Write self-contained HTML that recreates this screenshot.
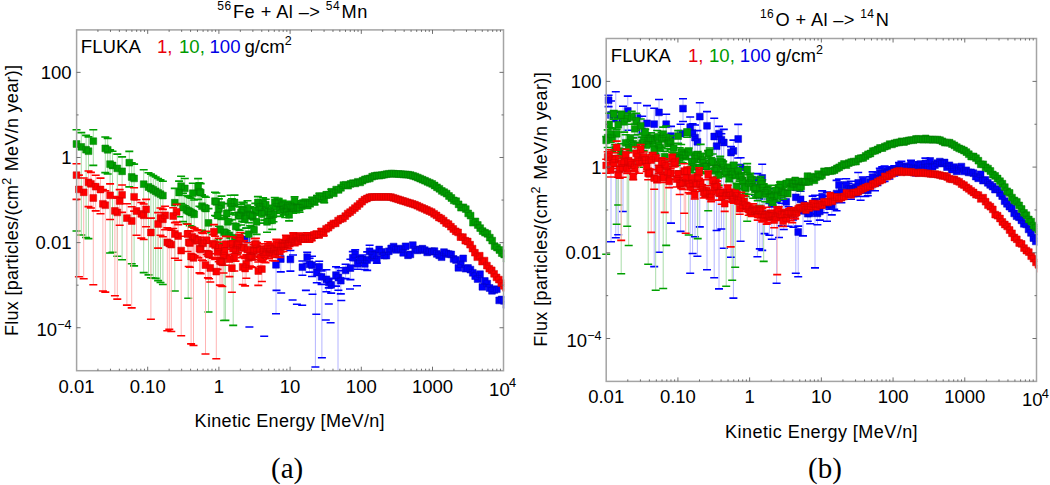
<!DOCTYPE html>
<html><head><meta charset="utf-8"><style>
html,body{margin:0;padding:0;background:#fff;width:1050px;height:485px;overflow:hidden}
svg{display:block;font-family:"Liberation Sans", sans-serif}
</style></head><body>
<svg width="1050" height="485" viewBox="0 0 1050 485">
<rect width="1050" height="485" fill="#fff"/>
<clipPath id="ca"><rect x="0" y="0" width="504.2" height="485"/></clipPath><clipPath id="cb"><rect x="530" y="0" width="507.2" height="485"/></clipPath>
<g clip-path="url(#ca)">
<path d="M276.0,253.2V313.7M280.8,249.0V271.9M290.4,250.5V271.1M302.4,261.0V275.3M307.2,252.3V263.3M309.6,258.3V272.1M312.0,256.3V276.5M316.8,264.6V282.8M319.2,261.2V274.3M321.6,271.0V284.4M326.4,269.7V291.8M328.8,278.2V287.9M331.2,278.7V293.1M336.0,266.7V286.1M338.4,267.8V290.2M340.8,270.6V293.9M345.6,264.2V278.6M350.4,259.3V279.6M352.8,251.6V265.7M355.2,249.9V260.5M357.6,259.6V269.3M360.0,255.9V265.2M362.4,255.0V265.2M364.8,259.7V269.5M367.2,251.9V270.4M369.6,245.3V259.1M372.0,250.3V260.8M374.4,251.6V260.3M376.8,256.6V263.3M315.4,290.0V367.0M321.9,285.0V357.8M338.0,280.0V370.0" stroke="#b4b4ff" stroke-width="1" fill="none"/>
<path d="M272.0,252.4h8.0v1.6h-8.0zM272.0,312.9h8.0v1.6h-8.0zM276.8,248.2h8.0v1.6h-8.0zM276.8,271.1h8.0v1.6h-8.0zM286.4,249.7h8.0v1.6h-8.0zM286.4,270.3h8.0v1.6h-8.0zM298.4,260.2h8.0v1.6h-8.0zM298.4,274.5h8.0v1.6h-8.0zM303.2,251.5h8.0v1.6h-8.0zM303.2,262.5h8.0v1.6h-8.0zM305.6,257.5h8.0v1.6h-8.0zM305.6,271.3h8.0v1.6h-8.0zM308.0,255.5h8.0v1.6h-8.0zM308.0,275.7h8.0v1.6h-8.0zM312.8,263.8h8.0v1.6h-8.0zM312.8,282.0h8.0v1.6h-8.0zM315.2,260.4h8.0v1.6h-8.0zM315.2,273.5h8.0v1.6h-8.0zM317.6,270.2h8.0v1.6h-8.0zM317.6,283.6h8.0v1.6h-8.0zM322.4,268.9h8.0v1.6h-8.0zM322.4,291.0h8.0v1.6h-8.0zM324.8,277.4h8.0v1.6h-8.0zM324.8,287.1h8.0v1.6h-8.0zM327.2,277.9h8.0v1.6h-8.0zM327.2,292.3h8.0v1.6h-8.0zM332.0,265.9h8.0v1.6h-8.0zM332.0,285.3h8.0v1.6h-8.0zM334.4,267.0h8.0v1.6h-8.0zM334.4,289.4h8.0v1.6h-8.0zM336.8,269.8h8.0v1.6h-8.0zM336.8,293.1h8.0v1.6h-8.0zM341.6,263.4h8.0v1.6h-8.0zM341.6,277.8h8.0v1.6h-8.0zM346.4,258.5h8.0v1.6h-8.0zM346.4,278.8h8.0v1.6h-8.0zM348.8,250.8h8.0v1.6h-8.0zM348.8,264.9h8.0v1.6h-8.0zM351.2,249.1h8.0v1.6h-8.0zM351.2,259.7h8.0v1.6h-8.0zM353.6,258.8h8.0v1.6h-8.0zM353.6,268.5h8.0v1.6h-8.0zM356.0,255.1h8.0v1.6h-8.0zM356.0,264.4h8.0v1.6h-8.0zM358.4,254.2h8.0v1.6h-8.0zM358.4,264.4h8.0v1.6h-8.0zM360.8,258.9h8.0v1.6h-8.0zM360.8,268.7h8.0v1.6h-8.0zM363.2,251.1h8.0v1.6h-8.0zM363.2,269.6h8.0v1.6h-8.0zM365.6,244.5h8.0v1.6h-8.0zM365.6,258.3h8.0v1.6h-8.0zM368.0,249.5h8.0v1.6h-8.0zM368.0,260.0h8.0v1.6h-8.0zM370.4,250.8h8.0v1.6h-8.0zM370.4,259.5h8.0v1.6h-8.0zM372.8,255.8h8.0v1.6h-8.0zM372.8,262.5h8.0v1.6h-8.0zM245.4,326.2h8.0v1.6h-8.0zM260.2,335.4h8.0v1.6h-8.0zM272.5,289.6h8.0v1.6h-8.0zM277.2,292.2h8.0v1.6h-8.0zM288.6,299.2h8.0v1.6h-8.0zM292.9,303.5h8.0v1.6h-8.0zM298.2,304.4h8.0v1.6h-8.0zM301.9,289.6h8.0v1.6h-8.0zM308.5,293.4h8.0v1.6h-8.0zM312.3,313.4h8.0v1.6h-8.0zM324.8,303.2h8.0v1.6h-8.0zM321.8,319.2h8.0v1.6h-8.0zM326.6,321.9h8.0v1.6h-8.0zM317.9,357.0h8.0v1.6h-8.0zM311.4,366.2h8.0v1.6h-8.0zM337.3,299.7h8.0v1.6h-8.0zM346.0,288.2h8.0v1.6h-8.0zM353.0,284.9h8.0v1.6h-8.0zM276.0,245.2h8.0v1.6h-8.0zM289.0,254.2h8.0v1.6h-8.0zM242.5,227.2h8.0v1.6h-8.0z" fill="#0000ff"/>
<path d="M272.6,261.4h6.8v6.8h-6.8zM277.4,255.6h6.8v6.8h-6.8zM287.0,256.0h6.8v6.8h-6.8zM299.0,263.8h6.8v6.8h-6.8zM303.8,253.7h6.8v6.8h-6.8zM306.2,260.9h6.8v6.8h-6.8zM308.6,261.7h6.8v6.8h-6.8zM313.4,269.1h6.8v6.8h-6.8zM315.8,263.5h6.8v6.8h-6.8zM318.2,273.4h6.8v6.8h-6.8zM323.0,275.9h6.8v6.8h-6.8zM325.4,279.0h6.8v6.8h-6.8zM327.8,281.5h6.8v6.8h-6.8zM332.6,271.7h6.8v6.8h-6.8zM335.0,274.1h6.8v6.8h-6.8zM337.4,277.3h6.8v6.8h-6.8zM342.2,267.0h6.8v6.8h-6.8zM347.0,264.7h6.8v6.8h-6.8zM349.4,254.3h6.8v6.8h-6.8zM351.8,251.1h6.8v6.8h-6.8zM354.2,260.4h6.8v6.8h-6.8zM356.6,256.5h6.8v6.8h-6.8zM359.0,256.0h6.8v6.8h-6.8zM361.4,260.5h6.8v6.8h-6.8zM363.8,256.6h6.8v6.8h-6.8zM366.2,247.9h6.8v6.8h-6.8zM368.6,251.5h6.8v6.8h-6.8zM371.0,252.0h6.8v6.8h-6.8zM373.4,256.1h6.8v6.8h-6.8zM375.8,246.1h6.8v6.8h-6.8zM378.2,248.6h6.8v6.8h-6.8zM380.6,252.1h6.8v6.8h-6.8zM383.0,252.2h6.8v6.8h-6.8zM385.4,247.9h6.8v6.8h-6.8zM387.8,245.0h6.8v6.8h-6.8zM390.2,243.2h6.8v6.8h-6.8zM392.6,246.5h6.8v6.8h-6.8zM395.0,245.2h6.8v6.8h-6.8zM397.4,245.8h6.8v6.8h-6.8zM399.8,249.4h6.8v6.8h-6.8zM402.2,242.9h6.8v6.8h-6.8zM404.6,251.9h6.8v6.8h-6.8zM407.0,251.0h6.8v6.8h-6.8zM409.4,241.7h6.8v6.8h-6.8zM411.8,246.3h6.8v6.8h-6.8zM414.2,247.0h6.8v6.8h-6.8zM416.6,246.1h6.8v6.8h-6.8zM419.0,245.3h6.8v6.8h-6.8zM421.4,246.8h6.8v6.8h-6.8zM423.8,249.0h6.8v6.8h-6.8zM426.2,248.3h6.8v6.8h-6.8zM428.6,247.9h6.8v6.8h-6.8zM431.0,247.7h6.8v6.8h-6.8zM433.4,250.5h6.8v6.8h-6.8zM435.8,251.9h6.8v6.8h-6.8zM438.2,253.8h6.8v6.8h-6.8zM440.6,248.7h6.8v6.8h-6.8zM443.0,250.0h6.8v6.8h-6.8zM445.4,250.8h6.8v6.8h-6.8zM447.8,251.0h6.8v6.8h-6.8zM450.2,255.5h6.8v6.8h-6.8zM452.6,256.6h6.8v6.8h-6.8zM455.0,264.4h6.8v6.8h-6.8zM457.4,260.8h6.8v6.8h-6.8zM459.8,255.0h6.8v6.8h-6.8zM462.2,265.3h6.8v6.8h-6.8zM464.6,264.6h6.8v6.8h-6.8zM467.0,266.2h6.8v6.8h-6.8zM469.4,269.4h6.8v6.8h-6.8zM471.8,272.7h6.8v6.8h-6.8zM474.2,275.6h6.8v6.8h-6.8zM476.6,270.8h6.8v6.8h-6.8zM479.0,283.4h6.8v6.8h-6.8zM481.4,277.6h6.8v6.8h-6.8zM483.8,280.2h6.8v6.8h-6.8zM486.2,284.6h6.8v6.8h-6.8zM488.6,287.4h6.8v6.8h-6.8zM491.0,286.5h6.8v6.8h-6.8zM493.4,285.8h6.8v6.8h-6.8zM495.8,297.0h6.8v6.8h-6.8zM498.2,296.1h6.8v6.8h-6.8zM500.6,297.4h6.8v6.8h-6.8zM503.0,301.5h6.8v6.8h-6.8zM243.1,236.1h6.8v6.8h-6.8z" fill="#0000ff" stroke="#0000c0" stroke-width="0.5"/>
<path d="M76.5,129.7V231.0M81.3,132.6V235.0M86.1,135.4V237.5M88.5,136.9V238.6M93.3,129.8V165.4M105.3,137.0V172.6M107.7,138.4V174.0M110.1,149.8V253.0M112.5,151.2V252.3M117.3,154.1V256.3M122.1,156.9V259.8M129.3,151.4V186.9M131.7,162.7V263.8M134.1,164.1V265.9M143.7,169.8V272.6M148.5,172.7V274.9M150.9,174.1V277.8M153.3,175.6V278.1M155.7,177.0V278.4M158.1,178.5V280.6M160.5,179.9V282.5M162.9,181.3V284.5M174.8,188.4V291.0M179.1,181.1V216.7M181.1,176.3V203.6M183.0,193.3V221.6M184.8,178.5V205.8M186.6,195.5V223.8M188.2,196.5V298.3M189.8,197.4V225.7M191.4,198.3V226.6M192.8,183.3V210.6M194.2,200.0V228.3M198.1,178.6V199.4M199.4,182.9V206.2M200.7,183.6V206.9M202.0,194.8V230.4M204.6,196.4V232.0M205.9,197.2V232.7M208.5,208.6V312.0M215.0,192.2V215.5M216.3,193.0V216.3M217.6,204.2V239.7M218.9,198.9V226.2M220.2,215.6V243.9M221.5,196.1V219.4M224.1,217.9V320.5M225.4,218.7V320.4M226.7,203.6V230.9M228.0,210.4V246.0M229.3,221.0V249.3M230.6,195.2V214.2M231.9,198.8V219.6M233.2,223.4V325.4M234.5,195.1V212.8M235.8,215.0V250.6M237.1,225.7V254.0M238.4,206.2V229.5M239.7,206.9V230.2M241.0,204.3V225.0M242.3,202.2V221.2M243.6,202.9V222.0M244.9,210.0V233.4M246.2,207.4V228.1M247.5,200.7V217.3M248.8,222.8V258.4M250.1,206.8V225.8M251.4,207.6V226.6M252.7,208.4V227.4M254.0,219.9V247.2M255.3,203.4V219.3M256.6,213.6V234.4M257.9,196.6V209.4M259.2,201.1V215.1M260.5,200.5V214.1M261.8,207.3V223.1M263.1,197.7V209.8M264.4,205.6V220.1M265.7,199.2V211.4M267.0,214.5V232.2M268.3,205.2V218.7M269.6,208.7V223.2M270.9,206.8V220.3M272.2,213.5V229.4M273.5,208.3V221.8M274.8,197.5V207.8M276.1,201.9V213.1M277.4,198.4V208.6M278.7,198.6V208.6M280.0,205.0V216.4M281.3,201.4V211.7M282.6,200.3V210.2M283.9,204.3V214.9M285.2,206.5V217.5M286.5,203.2V213.3M287.8,201.7V211.3M289.1,209.7V220.9M290.4,201.3V210.5M291.8,202.5V211.8M293.2,203.9V213.3M294.6,196.8V204.8M296.2,203.8V212.8M297.8,203.4V212.3M299.6,203.7V212.3M301.4,200.8V208.9M303.3,200.1V207.9M305.4,199.2V206.7M307.5,201.0V208.5M309.8,199.6V206.8M312.2,197.3V204.1M314.6,198.2V205.0M317.0,195.5V201.8M319.4,193.3V199.3M321.8,193.6V199.5M324.2,196.7V202.7M326.6,192.0V197.6M329.0,192.0V197.4M331.4,189.3V194.4" stroke="#a8dca8" stroke-width="1" fill="none"/>
<path d="M72.5,128.9h8.0v1.6h-8.0zM72.5,230.2h8.0v1.6h-8.0zM77.3,131.8h8.0v1.6h-8.0zM77.3,234.2h8.0v1.6h-8.0zM82.1,134.6h8.0v1.6h-8.0zM82.1,236.7h8.0v1.6h-8.0zM84.5,136.1h8.0v1.6h-8.0zM84.5,237.8h8.0v1.6h-8.0zM89.3,129.0h8.0v1.6h-8.0zM89.3,164.6h8.0v1.6h-8.0zM101.3,136.2h8.0v1.6h-8.0zM101.3,171.8h8.0v1.6h-8.0zM103.7,137.6h8.0v1.6h-8.0zM103.7,173.2h8.0v1.6h-8.0zM106.1,149.0h8.0v1.6h-8.0zM106.1,252.2h8.0v1.6h-8.0zM108.5,150.4h8.0v1.6h-8.0zM108.5,251.5h8.0v1.6h-8.0zM113.3,153.3h8.0v1.6h-8.0zM113.3,255.5h8.0v1.6h-8.0zM118.1,156.1h8.0v1.6h-8.0zM118.1,259.0h8.0v1.6h-8.0zM125.3,150.6h8.0v1.6h-8.0zM125.3,186.1h8.0v1.6h-8.0zM127.7,161.9h8.0v1.6h-8.0zM127.7,263.0h8.0v1.6h-8.0zM130.1,163.3h8.0v1.6h-8.0zM130.1,265.1h8.0v1.6h-8.0zM139.7,169.0h8.0v1.6h-8.0zM139.7,271.8h8.0v1.6h-8.0zM144.5,171.9h8.0v1.6h-8.0zM144.5,274.1h8.0v1.6h-8.0zM146.9,173.3h8.0v1.6h-8.0zM146.9,277.0h8.0v1.6h-8.0zM149.3,174.8h8.0v1.6h-8.0zM149.3,277.3h8.0v1.6h-8.0zM151.7,176.2h8.0v1.6h-8.0zM151.7,277.6h8.0v1.6h-8.0zM154.1,177.7h8.0v1.6h-8.0zM154.1,279.8h8.0v1.6h-8.0zM156.5,179.1h8.0v1.6h-8.0zM156.5,281.7h8.0v1.6h-8.0zM158.9,180.5h8.0v1.6h-8.0zM158.9,283.7h8.0v1.6h-8.0zM170.8,187.6h8.0v1.6h-8.0zM170.8,290.2h8.0v1.6h-8.0zM175.1,180.3h8.0v1.6h-8.0zM175.1,215.9h8.0v1.6h-8.0zM177.1,175.5h8.0v1.6h-8.0zM177.1,202.8h8.0v1.6h-8.0zM179.0,192.5h8.0v1.6h-8.0zM179.0,220.8h8.0v1.6h-8.0zM180.8,177.7h8.0v1.6h-8.0zM180.8,205.0h8.0v1.6h-8.0zM182.6,194.7h8.0v1.6h-8.0zM182.6,223.0h8.0v1.6h-8.0zM184.2,195.7h8.0v1.6h-8.0zM184.2,297.5h8.0v1.6h-8.0zM185.8,196.6h8.0v1.6h-8.0zM185.8,224.9h8.0v1.6h-8.0zM187.4,197.5h8.0v1.6h-8.0zM187.4,225.8h8.0v1.6h-8.0zM188.8,182.5h8.0v1.6h-8.0zM188.8,209.8h8.0v1.6h-8.0zM190.2,199.2h8.0v1.6h-8.0zM190.2,227.5h8.0v1.6h-8.0zM194.1,177.8h8.0v1.6h-8.0zM194.1,198.6h8.0v1.6h-8.0zM195.4,182.1h8.0v1.6h-8.0zM195.4,205.4h8.0v1.6h-8.0zM196.7,182.8h8.0v1.6h-8.0zM196.7,206.1h8.0v1.6h-8.0zM198.0,194.0h8.0v1.6h-8.0zM198.0,229.6h8.0v1.6h-8.0zM200.6,195.6h8.0v1.6h-8.0zM200.6,231.2h8.0v1.6h-8.0zM201.9,196.4h8.0v1.6h-8.0zM201.9,231.9h8.0v1.6h-8.0zM204.5,207.8h8.0v1.6h-8.0zM204.5,311.2h8.0v1.6h-8.0zM211.0,191.4h8.0v1.6h-8.0zM211.0,214.7h8.0v1.6h-8.0zM212.3,192.2h8.0v1.6h-8.0zM212.3,215.5h8.0v1.6h-8.0zM213.6,203.4h8.0v1.6h-8.0zM213.6,238.9h8.0v1.6h-8.0zM214.9,198.1h8.0v1.6h-8.0zM214.9,225.4h8.0v1.6h-8.0zM216.2,214.8h8.0v1.6h-8.0zM216.2,243.1h8.0v1.6h-8.0zM217.5,195.3h8.0v1.6h-8.0zM217.5,218.6h8.0v1.6h-8.0zM220.1,217.1h8.0v1.6h-8.0zM220.1,319.7h8.0v1.6h-8.0zM221.4,217.9h8.0v1.6h-8.0zM221.4,319.6h8.0v1.6h-8.0zM222.7,202.8h8.0v1.6h-8.0zM222.7,230.1h8.0v1.6h-8.0zM224.0,209.6h8.0v1.6h-8.0zM224.0,245.2h8.0v1.6h-8.0zM225.3,220.2h8.0v1.6h-8.0zM225.3,248.5h8.0v1.6h-8.0zM226.6,194.4h8.0v1.6h-8.0zM226.6,213.4h8.0v1.6h-8.0zM227.9,198.0h8.0v1.6h-8.0zM227.9,218.8h8.0v1.6h-8.0zM229.2,222.6h8.0v1.6h-8.0zM229.2,324.6h8.0v1.6h-8.0zM230.5,194.3h8.0v1.6h-8.0zM230.5,212.0h8.0v1.6h-8.0zM231.8,214.2h8.0v1.6h-8.0zM231.8,249.8h8.0v1.6h-8.0zM233.1,224.9h8.0v1.6h-8.0zM233.1,253.2h8.0v1.6h-8.0zM234.4,205.4h8.0v1.6h-8.0zM234.4,228.7h8.0v1.6h-8.0zM235.7,206.1h8.0v1.6h-8.0zM235.7,229.4h8.0v1.6h-8.0zM237.0,203.5h8.0v1.6h-8.0zM237.0,224.2h8.0v1.6h-8.0zM238.3,201.4h8.0v1.6h-8.0zM238.3,220.4h8.0v1.6h-8.0zM239.6,202.1h8.0v1.6h-8.0zM239.6,221.2h8.0v1.6h-8.0zM240.9,209.2h8.0v1.6h-8.0zM240.9,232.6h8.0v1.6h-8.0zM242.2,206.6h8.0v1.6h-8.0zM242.2,227.3h8.0v1.6h-8.0zM243.5,199.9h8.0v1.6h-8.0zM243.5,216.5h8.0v1.6h-8.0zM244.8,222.0h8.0v1.6h-8.0zM244.8,257.6h8.0v1.6h-8.0zM246.1,206.0h8.0v1.6h-8.0zM246.1,225.0h8.0v1.6h-8.0zM247.4,206.8h8.0v1.6h-8.0zM247.4,225.8h8.0v1.6h-8.0zM248.7,207.6h8.0v1.6h-8.0zM248.7,226.6h8.0v1.6h-8.0zM250.0,219.1h8.0v1.6h-8.0zM250.0,246.4h8.0v1.6h-8.0zM251.3,202.6h8.0v1.6h-8.0zM251.3,218.5h8.0v1.6h-8.0zM252.6,212.8h8.0v1.6h-8.0zM252.6,233.6h8.0v1.6h-8.0zM253.9,195.8h8.0v1.6h-8.0zM253.9,208.6h8.0v1.6h-8.0zM255.2,200.3h8.0v1.6h-8.0zM255.2,214.3h8.0v1.6h-8.0zM256.5,199.7h8.0v1.6h-8.0zM256.5,213.3h8.0v1.6h-8.0zM257.8,206.5h8.0v1.6h-8.0zM257.8,222.3h8.0v1.6h-8.0zM259.1,196.9h8.0v1.6h-8.0zM259.1,209.0h8.0v1.6h-8.0zM260.4,204.8h8.0v1.6h-8.0zM260.4,219.3h8.0v1.6h-8.0zM261.7,198.4h8.0v1.6h-8.0zM261.7,210.6h8.0v1.6h-8.0zM263.0,213.7h8.0v1.6h-8.0zM263.0,231.4h8.0v1.6h-8.0zM264.3,204.4h8.0v1.6h-8.0zM264.3,217.9h8.0v1.6h-8.0zM265.6,207.9h8.0v1.6h-8.0zM265.6,222.4h8.0v1.6h-8.0zM266.9,206.0h8.0v1.6h-8.0zM266.9,219.5h8.0v1.6h-8.0zM268.2,212.7h8.0v1.6h-8.0zM268.2,228.6h8.0v1.6h-8.0zM269.5,207.5h8.0v1.6h-8.0zM269.5,221.0h8.0v1.6h-8.0zM270.8,196.7h8.0v1.6h-8.0zM270.8,207.0h8.0v1.6h-8.0zM272.1,201.1h8.0v1.6h-8.0zM272.1,212.3h8.0v1.6h-8.0zM273.4,197.6h8.0v1.6h-8.0zM273.4,207.8h8.0v1.6h-8.0zM274.7,197.8h8.0v1.6h-8.0zM274.7,207.8h8.0v1.6h-8.0zM276.0,204.2h8.0v1.6h-8.0zM276.0,215.6h8.0v1.6h-8.0zM277.3,200.6h8.0v1.6h-8.0zM277.3,210.9h8.0v1.6h-8.0zM278.6,199.5h8.0v1.6h-8.0zM278.6,209.4h8.0v1.6h-8.0zM279.9,203.5h8.0v1.6h-8.0zM279.9,214.1h8.0v1.6h-8.0zM281.2,205.7h8.0v1.6h-8.0zM281.2,216.7h8.0v1.6h-8.0zM282.5,202.4h8.0v1.6h-8.0zM282.5,212.5h8.0v1.6h-8.0zM283.8,200.9h8.0v1.6h-8.0zM283.8,210.5h8.0v1.6h-8.0zM285.1,208.9h8.0v1.6h-8.0zM285.1,220.1h8.0v1.6h-8.0zM286.4,200.5h8.0v1.6h-8.0zM286.4,209.7h8.0v1.6h-8.0zM287.8,201.7h8.0v1.6h-8.0zM287.8,211.0h8.0v1.6h-8.0zM289.2,203.1h8.0v1.6h-8.0zM289.2,212.5h8.0v1.6h-8.0zM290.6,196.0h8.0v1.6h-8.0zM290.6,204.0h8.0v1.6h-8.0zM292.2,203.0h8.0v1.6h-8.0zM292.2,212.0h8.0v1.6h-8.0zM293.8,202.6h8.0v1.6h-8.0zM293.8,211.5h8.0v1.6h-8.0zM295.6,202.9h8.0v1.6h-8.0zM295.6,211.5h8.0v1.6h-8.0zM297.4,200.0h8.0v1.6h-8.0zM297.4,208.1h8.0v1.6h-8.0zM299.3,199.3h8.0v1.6h-8.0zM299.3,207.1h8.0v1.6h-8.0zM301.4,198.4h8.0v1.6h-8.0zM301.4,205.9h8.0v1.6h-8.0zM303.5,200.2h8.0v1.6h-8.0zM303.5,207.7h8.0v1.6h-8.0zM305.8,198.8h8.0v1.6h-8.0zM305.8,206.0h8.0v1.6h-8.0zM308.2,196.5h8.0v1.6h-8.0zM308.2,203.3h8.0v1.6h-8.0zM310.6,197.4h8.0v1.6h-8.0zM310.6,204.2h8.0v1.6h-8.0zM313.0,194.7h8.0v1.6h-8.0zM313.0,201.0h8.0v1.6h-8.0zM315.4,192.5h8.0v1.6h-8.0zM315.4,198.5h8.0v1.6h-8.0zM317.8,192.8h8.0v1.6h-8.0zM317.8,198.7h8.0v1.6h-8.0zM320.2,195.9h8.0v1.6h-8.0zM320.2,201.9h8.0v1.6h-8.0zM322.6,191.2h8.0v1.6h-8.0zM322.6,196.8h8.0v1.6h-8.0zM325.0,191.2h8.0v1.6h-8.0zM325.0,196.6h8.0v1.6h-8.0zM327.4,188.5h8.0v1.6h-8.0zM327.4,193.6h8.0v1.6h-8.0z" fill="#00a000"/>
<path d="M73.1,140.6h6.8v6.8h-6.8zM77.9,143.5h6.8v6.8h-6.8zM82.7,146.3h6.8v6.8h-6.8zM85.1,147.8h6.8v6.8h-6.8zM89.9,137.8h6.8v6.8h-6.8zM101.9,145.0h6.8v6.8h-6.8zM104.3,146.4h6.8v6.8h-6.8zM106.7,160.7h6.8v6.8h-6.8zM109.1,162.1h6.8v6.8h-6.8zM113.9,165.0h6.8v6.8h-6.8zM118.7,167.9h6.8v6.8h-6.8zM125.9,159.3h6.8v6.8h-6.8zM128.3,173.6h6.8v6.8h-6.8zM130.7,175.0h6.8v6.8h-6.8zM140.3,180.8h6.8v6.8h-6.8zM145.1,183.6h6.8v6.8h-6.8zM147.5,185.1h6.8v6.8h-6.8zM149.9,186.5h6.8v6.8h-6.8zM152.3,187.9h6.8v6.8h-6.8zM154.7,189.4h6.8v6.8h-6.8zM157.1,190.8h6.8v6.8h-6.8zM159.5,192.2h6.8v6.8h-6.8zM171.4,199.3h6.8v6.8h-6.8zM175.7,189.1h6.8v6.8h-6.8zM177.7,182.8h6.8v6.8h-6.8zM179.6,204.2h6.8v6.8h-6.8zM181.4,185.0h6.8v6.8h-6.8zM183.2,206.4h6.8v6.8h-6.8zM184.8,207.4h6.8v6.8h-6.8zM186.4,208.3h6.8v6.8h-6.8zM188.0,209.2h6.8v6.8h-6.8zM189.4,189.8h6.8v6.8h-6.8zM190.8,210.9h6.8v6.8h-6.8zM194.7,183.5h6.8v6.8h-6.8zM196.0,188.4h6.8v6.8h-6.8zM197.3,189.2h6.8v6.8h-6.8zM198.6,202.8h6.8v6.8h-6.8zM201.2,204.4h6.8v6.8h-6.8zM202.5,205.1h6.8v6.8h-6.8zM205.1,219.5h6.8v6.8h-6.8zM211.6,197.8h6.8v6.8h-6.8zM212.9,198.5h6.8v6.8h-6.8zM214.2,212.1h6.8v6.8h-6.8zM215.5,205.4h6.8v6.8h-6.8zM216.8,226.5h6.8v6.8h-6.8zM218.1,201.7h6.8v6.8h-6.8zM220.7,228.8h6.8v6.8h-6.8zM222.0,229.6h6.8v6.8h-6.8zM223.3,210.1h6.8v6.8h-6.8zM224.6,218.4h6.8v6.8h-6.8zM225.9,231.9h6.8v6.8h-6.8zM227.2,199.6h6.8v6.8h-6.8zM228.5,203.7h6.8v6.8h-6.8zM229.8,234.3h6.8v6.8h-6.8zM231.1,199.1h6.8v6.8h-6.8zM232.4,223.0h6.8v6.8h-6.8zM233.7,236.6h6.8v6.8h-6.8zM235.0,211.8h6.8v6.8h-6.8zM236.3,212.5h6.8v6.8h-6.8zM237.6,209.2h6.8v6.8h-6.8zM238.9,206.6h6.8v6.8h-6.8zM240.2,207.4h6.8v6.8h-6.8zM241.5,215.6h6.8v6.8h-6.8zM242.8,212.3h6.8v6.8h-6.8zM244.1,204.4h6.8v6.8h-6.8zM245.4,230.8h6.8v6.8h-6.8zM246.7,211.3h6.8v6.8h-6.8zM248.0,212.0h6.8v6.8h-6.8zM249.3,212.8h6.8v6.8h-6.8zM250.6,226.4h6.8v6.8h-6.8zM251.9,206.9h6.8v6.8h-6.8zM253.2,218.5h6.8v6.8h-6.8zM254.5,199.0h6.8v6.8h-6.8zM255.8,203.9h6.8v6.8h-6.8zM257.1,203.2h6.8v6.8h-6.8zM258.4,210.7h6.8v6.8h-6.8zM259.7,199.8h6.8v6.8h-6.8zM261.0,208.6h6.8v6.8h-6.8zM262.3,201.3h6.8v6.8h-6.8zM263.6,218.5h6.8v6.8h-6.8zM264.9,207.8h6.8v6.8h-6.8zM266.2,211.7h6.8v6.8h-6.8zM267.5,209.4h6.8v6.8h-6.8zM268.8,217.0h6.8v6.8h-6.8zM270.1,210.9h6.8v6.8h-6.8zM271.4,198.9h6.8v6.8h-6.8zM272.7,203.6h6.8v6.8h-6.8zM274.0,199.8h6.8v6.8h-6.8zM275.3,199.9h6.8v6.8h-6.8zM276.6,206.9h6.8v6.8h-6.8zM277.9,202.8h6.8v6.8h-6.8zM279.2,201.6h6.8v6.8h-6.8zM280.5,205.8h6.8v6.8h-6.8zM281.8,208.2h6.8v6.8h-6.8zM283.1,204.5h6.8v6.8h-6.8zM284.4,202.8h6.8v6.8h-6.8zM285.7,211.4h6.8v6.8h-6.8zM287.0,202.2h6.8v6.8h-6.8zM288.4,203.5h6.8v6.8h-6.8zM289.8,204.9h6.8v6.8h-6.8zM291.2,197.2h6.8v6.8h-6.8zM292.8,204.7h6.8v6.8h-6.8zM294.4,204.2h6.8v6.8h-6.8zM296.2,204.4h6.8v6.8h-6.8zM298.0,201.3h6.8v6.8h-6.8zM299.9,200.5h6.8v6.8h-6.8zM302.0,199.4h6.8v6.8h-6.8zM304.1,201.2h6.8v6.8h-6.8zM306.4,199.7h6.8v6.8h-6.8zM308.8,197.2h6.8v6.8h-6.8zM311.2,198.1h6.8v6.8h-6.8zM313.6,195.2h6.8v6.8h-6.8zM316.0,192.9h6.8v6.8h-6.8zM318.4,193.1h6.8v6.8h-6.8zM320.8,196.2h6.8v6.8h-6.8zM323.2,191.4h6.8v6.8h-6.8zM325.6,191.3h6.8v6.8h-6.8zM328.0,188.4h6.8v6.8h-6.8zM330.4,189.9h6.8v6.8h-6.8zM332.8,186.2h6.8v6.8h-6.8zM335.2,186.5h6.8v6.8h-6.8zM337.6,184.4h6.8v6.8h-6.8zM340.0,181.7h6.8v6.8h-6.8zM342.4,181.4h6.8v6.8h-6.8zM344.8,182.3h6.8v6.8h-6.8zM347.2,180.5h6.8v6.8h-6.8zM349.6,179.7h6.8v6.8h-6.8zM352.0,180.0h6.8v6.8h-6.8zM354.4,178.4h6.8v6.8h-6.8zM356.8,179.0h6.8v6.8h-6.8zM359.2,177.3h6.8v6.8h-6.8zM361.6,176.0h6.8v6.8h-6.8zM364.0,175.4h6.8v6.8h-6.8zM366.4,175.0h6.8v6.8h-6.8zM368.8,173.3h6.8v6.8h-6.8zM371.2,172.5h6.8v6.8h-6.8zM373.6,172.0h6.8v6.8h-6.8zM376.0,172.2h6.8v6.8h-6.8zM378.4,171.8h6.8v6.8h-6.8zM380.8,171.3h6.8v6.8h-6.8zM383.2,170.8h6.8v6.8h-6.8zM385.6,170.4h6.8v6.8h-6.8zM388.0,170.2h6.8v6.8h-6.8zM390.4,170.3h6.8v6.8h-6.8zM392.8,170.5h6.8v6.8h-6.8zM395.2,170.6h6.8v6.8h-6.8zM397.6,170.8h6.8v6.8h-6.8zM400.0,171.0h6.8v6.8h-6.8zM402.4,171.1h6.8v6.8h-6.8zM404.8,171.3h6.8v6.8h-6.8zM407.2,171.7h6.8v6.8h-6.8zM409.6,172.4h6.8v6.8h-6.8zM412.0,173.2h6.8v6.8h-6.8zM414.4,174.2h6.8v6.8h-6.8zM416.8,175.2h6.8v6.8h-6.8zM419.2,176.3h6.8v6.8h-6.8zM421.6,177.3h6.8v6.8h-6.8zM424.0,178.4h6.8v6.8h-6.8zM426.4,179.4h6.8v6.8h-6.8zM428.8,180.5h6.8v6.8h-6.8zM431.2,182.1h6.8v6.8h-6.8zM433.6,183.9h6.8v6.8h-6.8zM436.0,185.4h6.8v6.8h-6.8zM438.4,187.5h6.8v6.8h-6.8zM440.8,188.8h6.8v6.8h-6.8zM443.2,190.2h6.8v6.8h-6.8zM445.6,192.6h6.8v6.8h-6.8zM448.0,194.6h6.8v6.8h-6.8zM450.4,197.0h6.8v6.8h-6.8zM452.8,197.8h6.8v6.8h-6.8zM455.2,200.9h6.8v6.8h-6.8zM457.6,204.3h6.8v6.8h-6.8zM460.0,203.9h6.8v6.8h-6.8zM462.4,205.7h6.8v6.8h-6.8zM464.8,210.0h6.8v6.8h-6.8zM467.2,212.2h6.8v6.8h-6.8zM469.6,219.3h6.8v6.8h-6.8zM472.0,218.0h6.8v6.8h-6.8zM474.4,221.6h6.8v6.8h-6.8zM476.8,224.7h6.8v6.8h-6.8zM479.2,227.7h6.8v6.8h-6.8zM481.6,229.3h6.8v6.8h-6.8zM484.0,230.4h6.8v6.8h-6.8zM486.4,234.2h6.8v6.8h-6.8zM488.8,237.2h6.8v6.8h-6.8zM491.2,242.8h6.8v6.8h-6.8zM493.6,244.2h6.8v6.8h-6.8zM496.0,246.6h6.8v6.8h-6.8zM498.4,249.7h6.8v6.8h-6.8zM500.8,251.1h6.8v6.8h-6.8zM503.2,255.2h6.8v6.8h-6.8z" fill="#00a000" stroke="#007c00" stroke-width="0.5"/>
<path d="M76.5,163.8V199.4M78.9,175.1V276.8M83.7,178.0V278.7M88.5,171.0V206.6M90.9,172.4V208.0M93.3,183.7V284.8M95.7,175.3V210.9M100.5,178.1V213.7M102.9,189.5V291.0M105.3,190.9V292.1M110.1,183.9V219.5M114.9,196.6V295.8M117.3,198.1V299.1M119.7,189.6V225.2M122.1,185.0V212.4M126.9,203.8V305.1M131.7,206.7V307.9M134.1,187.8V211.1M136.5,199.7V235.2M141.3,202.5V238.1M143.7,204.0V239.5M146.1,199.4V226.7M150.9,218.1V319.2M158.1,212.6V248.1M160.5,208.0V235.3M162.9,209.4V236.7M165.1,206.3V229.7M167.3,227.9V330.8M169.3,229.2V329.4M171.3,230.3V331.5M173.2,207.7V228.5M174.9,222.6V258.2M176.6,204.4V222.1M178.2,224.6V260.2M181.2,236.2V335.7M187.5,224.1V251.5M188.7,230.9V266.5M189.9,231.6V267.2M191.1,242.2V343.9M192.3,227.0V254.3M193.5,243.6V345.5M194.7,228.4V255.8M197.1,229.9V257.2M198.3,230.6V257.9M199.5,237.3V272.9M200.7,238.0V273.6M201.9,232.7V260.1M203.1,233.4V260.8M205.5,250.8V354.0M206.7,231.2V254.5M207.9,242.3V277.9M209.1,243.1V278.7M210.3,253.7V282.0M212.7,234.8V258.1M213.9,224.6V241.3M215.1,236.2V259.5M216.3,257.3V358.8M217.5,242.1V269.4M218.7,238.4V261.7M219.9,249.5V285.1M221.1,250.2V285.8M222.3,251.0V286.5M223.5,245.6V273.0M224.7,242.0V265.3M225.9,236.4V255.4M229.5,249.2V276.6M230.7,236.8V254.5M231.9,256.7V292.3M233.1,240.7V259.7M234.3,247.7V271.0M235.5,242.1V261.1M236.7,238.2V254.9M237.9,237.0V252.9M239.1,234.5V249.0M240.3,232.5V246.0M241.5,241.1V257.8M242.7,257.1V284.5M243.9,240.6V256.4M245.1,258.5V285.9M246.3,254.9V278.2M247.5,242.8V258.6M248.7,250.0V269.0M249.9,248.3V266.0M251.1,249.0V266.7M252.3,249.7V267.4M253.5,244.7V259.8M254.7,238.7V251.5M255.9,238.4V250.8M257.1,242.5V256.0M258.3,262.0V285.4M259.5,243.9V257.5M260.7,250.7V266.5M261.9,260.7V281.5M263.1,246.1V259.6M264.3,248.1V262.1M265.5,248.8V262.8M266.7,243.8V256.0M267.9,241.8V253.2M269.1,246.2V258.7M270.3,243.2V254.6M271.5,243.9V255.4M272.7,248.4V260.8M273.9,245.4V256.8M275.1,248.8V261.0M276.3,239.4V249.1M277.5,245.9V256.9M278.7,241.4V251.2M279.9,246.6V257.4M281.1,242.3V252.0M282.3,239.5V248.5M283.5,242.1V251.5M284.7,239.6V248.4M285.9,235.2V243.3M287.1,240.2V248.9M288.3,240.2V248.7M289.5,238.4V246.5M290.7,235.5V243.1M292.0,237.1V244.8M293.3,232.9V240.0M294.7,238.1V245.8M296.2,234.2V241.3M297.8,237.1V244.4M299.4,233.0V239.7M301.2,235.4V242.2M303.1,235.5V242.3M305.0,234.8V241.4M307.1,232.9V239.2M309.4,235.7V242.1M311.7,234.5V240.6M314.1,232.3V238.2M316.5,231.4V237.0M318.9,232.1V237.7M321.3,228.7V234.0M323.7,230.4V235.7" stroke="#ffb4b4" stroke-width="1" fill="none"/>
<path d="M72.5,163.0h8.0v1.6h-8.0zM72.5,198.6h8.0v1.6h-8.0zM74.9,174.3h8.0v1.6h-8.0zM74.9,276.0h8.0v1.6h-8.0zM79.7,177.2h8.0v1.6h-8.0zM79.7,277.9h8.0v1.6h-8.0zM84.5,170.2h8.0v1.6h-8.0zM84.5,205.8h8.0v1.6h-8.0zM86.9,171.6h8.0v1.6h-8.0zM86.9,207.2h8.0v1.6h-8.0zM89.3,182.9h8.0v1.6h-8.0zM89.3,284.0h8.0v1.6h-8.0zM91.7,174.5h8.0v1.6h-8.0zM91.7,210.1h8.0v1.6h-8.0zM96.5,177.3h8.0v1.6h-8.0zM96.5,212.9h8.0v1.6h-8.0zM98.9,188.7h8.0v1.6h-8.0zM98.9,290.2h8.0v1.6h-8.0zM101.3,190.1h8.0v1.6h-8.0zM101.3,291.3h8.0v1.6h-8.0zM106.1,183.1h8.0v1.6h-8.0zM106.1,218.7h8.0v1.6h-8.0zM110.9,195.8h8.0v1.6h-8.0zM110.9,295.0h8.0v1.6h-8.0zM113.3,197.3h8.0v1.6h-8.0zM113.3,298.3h8.0v1.6h-8.0zM115.7,188.8h8.0v1.6h-8.0zM115.7,224.4h8.0v1.6h-8.0zM118.1,184.2h8.0v1.6h-8.0zM118.1,211.6h8.0v1.6h-8.0zM122.9,203.0h8.0v1.6h-8.0zM122.9,304.3h8.0v1.6h-8.0zM127.7,205.9h8.0v1.6h-8.0zM127.7,307.1h8.0v1.6h-8.0zM130.1,187.0h8.0v1.6h-8.0zM130.1,210.3h8.0v1.6h-8.0zM132.5,198.9h8.0v1.6h-8.0zM132.5,234.4h8.0v1.6h-8.0zM137.3,201.7h8.0v1.6h-8.0zM137.3,237.3h8.0v1.6h-8.0zM139.7,203.2h8.0v1.6h-8.0zM139.7,238.7h8.0v1.6h-8.0zM142.1,198.6h8.0v1.6h-8.0zM142.1,225.9h8.0v1.6h-8.0zM146.9,217.3h8.0v1.6h-8.0zM146.9,318.4h8.0v1.6h-8.0zM154.1,211.8h8.0v1.6h-8.0zM154.1,247.3h8.0v1.6h-8.0zM156.5,207.2h8.0v1.6h-8.0zM156.5,234.5h8.0v1.6h-8.0zM158.9,208.6h8.0v1.6h-8.0zM158.9,235.9h8.0v1.6h-8.0zM161.1,205.5h8.0v1.6h-8.0zM161.1,228.9h8.0v1.6h-8.0zM163.3,227.1h8.0v1.6h-8.0zM163.3,330.0h8.0v1.6h-8.0zM165.3,228.4h8.0v1.6h-8.0zM165.3,328.6h8.0v1.6h-8.0zM167.3,229.5h8.0v1.6h-8.0zM167.3,330.7h8.0v1.6h-8.0zM169.2,206.9h8.0v1.6h-8.0zM169.2,227.7h8.0v1.6h-8.0zM170.9,221.8h8.0v1.6h-8.0zM170.9,257.4h8.0v1.6h-8.0zM172.6,203.6h8.0v1.6h-8.0zM172.6,221.3h8.0v1.6h-8.0zM174.2,223.8h8.0v1.6h-8.0zM174.2,259.4h8.0v1.6h-8.0zM177.2,235.4h8.0v1.6h-8.0zM177.2,334.9h8.0v1.6h-8.0zM183.5,223.3h8.0v1.6h-8.0zM183.5,250.7h8.0v1.6h-8.0zM184.7,230.1h8.0v1.6h-8.0zM184.7,265.7h8.0v1.6h-8.0zM185.9,230.8h8.0v1.6h-8.0zM185.9,266.4h8.0v1.6h-8.0zM187.1,241.4h8.0v1.6h-8.0zM187.1,343.1h8.0v1.6h-8.0zM188.3,226.2h8.0v1.6h-8.0zM188.3,253.5h8.0v1.6h-8.0zM189.5,242.8h8.0v1.6h-8.0zM189.5,344.7h8.0v1.6h-8.0zM190.7,227.6h8.0v1.6h-8.0zM190.7,255.0h8.0v1.6h-8.0zM193.1,229.1h8.0v1.6h-8.0zM193.1,256.4h8.0v1.6h-8.0zM194.3,229.8h8.0v1.6h-8.0zM194.3,257.1h8.0v1.6h-8.0zM195.5,236.5h8.0v1.6h-8.0zM195.5,272.1h8.0v1.6h-8.0zM196.7,237.2h8.0v1.6h-8.0zM196.7,272.8h8.0v1.6h-8.0zM197.9,231.9h8.0v1.6h-8.0zM197.9,259.3h8.0v1.6h-8.0zM199.1,232.6h8.0v1.6h-8.0zM199.1,260.0h8.0v1.6h-8.0zM201.5,250.0h8.0v1.6h-8.0zM201.5,353.2h8.0v1.6h-8.0zM202.7,230.4h8.0v1.6h-8.0zM202.7,253.7h8.0v1.6h-8.0zM203.9,241.5h8.0v1.6h-8.0zM203.9,277.1h8.0v1.6h-8.0zM205.1,242.3h8.0v1.6h-8.0zM205.1,277.9h8.0v1.6h-8.0zM206.3,252.9h8.0v1.6h-8.0zM206.3,281.2h8.0v1.6h-8.0zM208.7,234.0h8.0v1.6h-8.0zM208.7,257.3h8.0v1.6h-8.0zM209.9,223.8h8.0v1.6h-8.0zM209.9,240.5h8.0v1.6h-8.0zM211.1,235.4h8.0v1.6h-8.0zM211.1,258.7h8.0v1.6h-8.0zM212.3,256.5h8.0v1.6h-8.0zM212.3,358.0h8.0v1.6h-8.0zM213.5,241.3h8.0v1.6h-8.0zM213.5,268.6h8.0v1.6h-8.0zM214.7,237.6h8.0v1.6h-8.0zM214.7,260.9h8.0v1.6h-8.0zM215.9,248.7h8.0v1.6h-8.0zM215.9,284.3h8.0v1.6h-8.0zM217.1,249.4h8.0v1.6h-8.0zM217.1,285.0h8.0v1.6h-8.0zM218.3,250.2h8.0v1.6h-8.0zM218.3,285.7h8.0v1.6h-8.0zM219.5,244.8h8.0v1.6h-8.0zM219.5,272.2h8.0v1.6h-8.0zM220.7,241.2h8.0v1.6h-8.0zM220.7,264.5h8.0v1.6h-8.0zM221.9,235.6h8.0v1.6h-8.0zM221.9,254.6h8.0v1.6h-8.0zM225.5,248.4h8.0v1.6h-8.0zM225.5,275.8h8.0v1.6h-8.0zM226.7,236.0h8.0v1.6h-8.0zM226.7,253.7h8.0v1.6h-8.0zM227.9,255.9h8.0v1.6h-8.0zM227.9,291.5h8.0v1.6h-8.0zM229.1,239.9h8.0v1.6h-8.0zM229.1,258.9h8.0v1.6h-8.0zM230.3,246.9h8.0v1.6h-8.0zM230.3,270.2h8.0v1.6h-8.0zM231.5,241.3h8.0v1.6h-8.0zM231.5,260.3h8.0v1.6h-8.0zM232.7,237.4h8.0v1.6h-8.0zM232.7,254.1h8.0v1.6h-8.0zM233.9,236.2h8.0v1.6h-8.0zM233.9,252.1h8.0v1.6h-8.0zM235.1,233.7h8.0v1.6h-8.0zM235.1,248.2h8.0v1.6h-8.0zM236.3,231.7h8.0v1.6h-8.0zM236.3,245.2h8.0v1.6h-8.0zM237.5,240.3h8.0v1.6h-8.0zM237.5,257.0h8.0v1.6h-8.0zM238.7,256.3h8.0v1.6h-8.0zM238.7,283.7h8.0v1.6h-8.0zM239.9,239.8h8.0v1.6h-8.0zM239.9,255.6h8.0v1.6h-8.0zM241.1,257.7h8.0v1.6h-8.0zM241.1,285.1h8.0v1.6h-8.0zM242.3,254.1h8.0v1.6h-8.0zM242.3,277.4h8.0v1.6h-8.0zM243.5,242.0h8.0v1.6h-8.0zM243.5,257.8h8.0v1.6h-8.0zM244.7,249.2h8.0v1.6h-8.0zM244.7,268.2h8.0v1.6h-8.0zM245.9,247.5h8.0v1.6h-8.0zM245.9,265.2h8.0v1.6h-8.0zM247.1,248.2h8.0v1.6h-8.0zM247.1,265.9h8.0v1.6h-8.0zM248.3,248.9h8.0v1.6h-8.0zM248.3,266.6h8.0v1.6h-8.0zM249.5,243.9h8.0v1.6h-8.0zM249.5,259.0h8.0v1.6h-8.0zM250.7,237.9h8.0v1.6h-8.0zM250.7,250.7h8.0v1.6h-8.0zM251.9,237.6h8.0v1.6h-8.0zM251.9,250.0h8.0v1.6h-8.0zM253.1,241.7h8.0v1.6h-8.0zM253.1,255.2h8.0v1.6h-8.0zM254.3,261.2h8.0v1.6h-8.0zM254.3,284.6h8.0v1.6h-8.0zM255.5,243.1h8.0v1.6h-8.0zM255.5,256.7h8.0v1.6h-8.0zM256.7,249.9h8.0v1.6h-8.0zM256.7,265.7h8.0v1.6h-8.0zM257.9,259.9h8.0v1.6h-8.0zM257.9,280.7h8.0v1.6h-8.0zM259.1,245.3h8.0v1.6h-8.0zM259.1,258.8h8.0v1.6h-8.0zM260.3,247.3h8.0v1.6h-8.0zM260.3,261.3h8.0v1.6h-8.0zM261.5,248.0h8.0v1.6h-8.0zM261.5,262.0h8.0v1.6h-8.0zM262.7,243.0h8.0v1.6h-8.0zM262.7,255.2h8.0v1.6h-8.0zM263.9,241.0h8.0v1.6h-8.0zM263.9,252.4h8.0v1.6h-8.0zM265.1,245.4h8.0v1.6h-8.0zM265.1,257.9h8.0v1.6h-8.0zM266.3,242.4h8.0v1.6h-8.0zM266.3,253.8h8.0v1.6h-8.0zM267.5,243.1h8.0v1.6h-8.0zM267.5,254.6h8.0v1.6h-8.0zM268.7,247.6h8.0v1.6h-8.0zM268.7,260.0h8.0v1.6h-8.0zM269.9,244.6h8.0v1.6h-8.0zM269.9,256.0h8.0v1.6h-8.0zM271.1,248.0h8.0v1.6h-8.0zM271.1,260.2h8.0v1.6h-8.0zM272.3,238.6h8.0v1.6h-8.0zM272.3,248.3h8.0v1.6h-8.0zM273.5,245.1h8.0v1.6h-8.0zM273.5,256.1h8.0v1.6h-8.0zM274.7,240.6h8.0v1.6h-8.0zM274.7,250.4h8.0v1.6h-8.0zM275.9,245.8h8.0v1.6h-8.0zM275.9,256.6h8.0v1.6h-8.0zM277.1,241.5h8.0v1.6h-8.0zM277.1,251.2h8.0v1.6h-8.0zM278.3,238.7h8.0v1.6h-8.0zM278.3,247.7h8.0v1.6h-8.0zM279.5,241.3h8.0v1.6h-8.0zM279.5,250.7h8.0v1.6h-8.0zM280.7,238.8h8.0v1.6h-8.0zM280.7,247.6h8.0v1.6h-8.0zM281.9,234.4h8.0v1.6h-8.0zM281.9,242.5h8.0v1.6h-8.0zM283.1,239.4h8.0v1.6h-8.0zM283.1,248.1h8.0v1.6h-8.0zM284.3,239.4h8.0v1.6h-8.0zM284.3,247.9h8.0v1.6h-8.0zM285.5,237.6h8.0v1.6h-8.0zM285.5,245.7h8.0v1.6h-8.0zM286.7,234.7h8.0v1.6h-8.0zM286.7,242.3h8.0v1.6h-8.0zM288.0,236.3h8.0v1.6h-8.0zM288.0,244.0h8.0v1.6h-8.0zM289.3,232.1h8.0v1.6h-8.0zM289.3,239.2h8.0v1.6h-8.0zM290.7,237.3h8.0v1.6h-8.0zM290.7,245.0h8.0v1.6h-8.0zM292.2,233.4h8.0v1.6h-8.0zM292.2,240.5h8.0v1.6h-8.0zM293.8,236.3h8.0v1.6h-8.0zM293.8,243.6h8.0v1.6h-8.0zM295.4,232.2h8.0v1.6h-8.0zM295.4,238.9h8.0v1.6h-8.0zM297.2,234.6h8.0v1.6h-8.0zM297.2,241.4h8.0v1.6h-8.0zM299.1,234.7h8.0v1.6h-8.0zM299.1,241.5h8.0v1.6h-8.0zM301.0,234.0h8.0v1.6h-8.0zM301.0,240.6h8.0v1.6h-8.0zM303.1,232.1h8.0v1.6h-8.0zM303.1,238.4h8.0v1.6h-8.0zM305.4,234.9h8.0v1.6h-8.0zM305.4,241.3h8.0v1.6h-8.0zM307.7,233.7h8.0v1.6h-8.0zM307.7,239.8h8.0v1.6h-8.0zM310.1,231.5h8.0v1.6h-8.0zM310.1,237.4h8.0v1.6h-8.0zM312.5,230.6h8.0v1.6h-8.0zM312.5,236.2h8.0v1.6h-8.0zM314.9,231.3h8.0v1.6h-8.0zM314.9,236.9h8.0v1.6h-8.0zM317.3,227.9h8.0v1.6h-8.0zM317.3,233.2h8.0v1.6h-8.0zM319.7,229.6h8.0v1.6h-8.0zM319.7,234.9h8.0v1.6h-8.0z" fill="#ff0000"/>
<path d="M73.1,171.8h6.8v6.8h-6.8zM75.5,186.0h6.8v6.8h-6.8zM80.3,188.9h6.8v6.8h-6.8zM85.1,179.0h6.8v6.8h-6.8zM87.5,180.4h6.8v6.8h-6.8zM89.9,194.6h6.8v6.8h-6.8zM92.3,183.3h6.8v6.8h-6.8zM97.1,186.1h6.8v6.8h-6.8zM99.5,200.4h6.8v6.8h-6.8zM101.9,201.8h6.8v6.8h-6.8zM106.7,191.9h6.8v6.8h-6.8zM111.5,207.5h6.8v6.8h-6.8zM113.9,209.0h6.8v6.8h-6.8zM116.3,197.6h6.8v6.8h-6.8zM118.7,191.5h6.8v6.8h-6.8zM123.5,214.7h6.8v6.8h-6.8zM128.3,217.6h6.8v6.8h-6.8zM130.7,193.4h6.8v6.8h-6.8zM133.1,207.6h6.8v6.8h-6.8zM137.9,210.5h6.8v6.8h-6.8zM140.3,211.9h6.8v6.8h-6.8zM142.7,205.9h6.8v6.8h-6.8zM147.5,229.1h6.8v6.8h-6.8zM154.7,220.6h6.8v6.8h-6.8zM157.1,214.5h6.8v6.8h-6.8zM159.5,215.9h6.8v6.8h-6.8zM161.7,211.9h6.8v6.8h-6.8zM163.9,238.9h6.8v6.8h-6.8zM165.9,240.1h6.8v6.8h-6.8zM167.9,241.2h6.8v6.8h-6.8zM169.8,212.6h6.8v6.8h-6.8zM171.5,230.6h6.8v6.8h-6.8zM173.2,208.5h6.8v6.8h-6.8zM174.8,232.6h6.8v6.8h-6.8zM177.8,247.2h6.8v6.8h-6.8zM184.1,230.6h6.8v6.8h-6.8zM185.3,238.9h6.8v6.8h-6.8zM186.5,239.6h6.8v6.8h-6.8zM187.7,253.1h6.8v6.8h-6.8zM188.9,233.5h6.8v6.8h-6.8zM190.1,254.5h6.8v6.8h-6.8zM191.3,235.0h6.8v6.8h-6.8zM193.7,236.4h6.8v6.8h-6.8zM194.9,237.1h6.8v6.8h-6.8zM196.1,245.3h6.8v6.8h-6.8zM197.3,246.0h6.8v6.8h-6.8zM198.5,239.3h6.8v6.8h-6.8zM199.7,240.0h6.8v6.8h-6.8zM202.1,261.7h6.8v6.8h-6.8zM203.3,236.8h6.8v6.8h-6.8zM204.5,250.3h6.8v6.8h-6.8zM205.7,251.1h6.8v6.8h-6.8zM206.9,264.6h6.8v6.8h-6.8zM209.3,240.4h6.8v6.8h-6.8zM210.5,228.3h6.8v6.8h-6.8zM211.7,241.8h6.8v6.8h-6.8zM212.9,268.2h6.8v6.8h-6.8zM214.1,248.6h6.8v6.8h-6.8zM215.3,244.0h6.8v6.8h-6.8zM216.5,257.5h6.8v6.8h-6.8zM217.7,258.2h6.8v6.8h-6.8zM218.9,258.9h6.8v6.8h-6.8zM220.1,252.2h6.8v6.8h-6.8zM221.3,247.6h6.8v6.8h-6.8zM222.5,240.8h6.8v6.8h-6.8zM226.1,255.7h6.8v6.8h-6.8zM227.3,240.8h6.8v6.8h-6.8zM228.5,264.7h6.8v6.8h-6.8zM229.7,245.1h6.8v6.8h-6.8zM230.9,253.3h6.8v6.8h-6.8zM232.1,246.5h6.8v6.8h-6.8zM233.3,241.9h6.8v6.8h-6.8zM234.5,240.5h6.8v6.8h-6.8zM235.7,237.5h6.8v6.8h-6.8zM236.9,235.1h6.8v6.8h-6.8zM238.1,244.8h6.8v6.8h-6.8zM239.3,263.6h6.8v6.8h-6.8zM240.5,244.0h6.8v6.8h-6.8zM241.7,265.1h6.8v6.8h-6.8zM242.9,260.5h6.8v6.8h-6.8zM244.1,246.2h6.8v6.8h-6.8zM245.3,254.4h6.8v6.8h-6.8zM246.5,252.3h6.8v6.8h-6.8zM247.7,253.0h6.8v6.8h-6.8zM248.9,253.7h6.8v6.8h-6.8zM250.1,247.8h6.8v6.8h-6.8zM251.3,241.1h6.8v6.8h-6.8zM252.5,240.6h6.8v6.8h-6.8zM253.7,245.1h6.8v6.8h-6.8zM254.9,267.6h6.8v6.8h-6.8zM256.1,246.6h6.8v6.8h-6.8zM257.3,254.1h6.8v6.8h-6.8zM258.5,265.7h6.8v6.8h-6.8zM259.7,248.7h6.8v6.8h-6.8zM260.9,250.9h6.8v6.8h-6.8zM262.1,251.6h6.8v6.8h-6.8zM263.3,245.9h6.8v6.8h-6.8zM264.5,243.6h6.8v6.8h-6.8zM265.7,248.5h6.8v6.8h-6.8zM266.9,245.1h6.8v6.8h-6.8zM268.1,245.8h6.8v6.8h-6.8zM269.3,250.6h6.8v6.8h-6.8zM270.5,247.2h6.8v6.8h-6.8zM271.7,250.9h6.8v6.8h-6.8zM272.9,240.5h6.8v6.8h-6.8zM274.1,247.6h6.8v6.8h-6.8zM275.3,242.6h6.8v6.8h-6.8zM276.5,248.2h6.8v6.8h-6.8zM277.7,243.4h6.8v6.8h-6.8zM278.9,240.4h6.8v6.8h-6.8zM280.1,243.1h6.8v6.8h-6.8zM281.3,240.4h6.8v6.8h-6.8zM282.5,235.7h6.8v6.8h-6.8zM283.7,241.0h6.8v6.8h-6.8zM284.9,240.8h6.8v6.8h-6.8zM286.1,238.9h6.8v6.8h-6.8zM287.3,235.8h6.8v6.8h-6.8zM288.6,237.4h6.8v6.8h-6.8zM289.9,232.9h6.8v6.8h-6.8zM291.3,238.4h6.8v6.8h-6.8zM292.8,234.2h6.8v6.8h-6.8zM294.4,237.3h6.8v6.8h-6.8zM296.0,232.9h6.8v6.8h-6.8zM297.8,235.3h6.8v6.8h-6.8zM299.7,235.4h6.8v6.8h-6.8zM301.6,234.6h6.8v6.8h-6.8zM303.7,232.6h6.8v6.8h-6.8zM306.0,235.4h6.8v6.8h-6.8zM308.3,234.1h6.8v6.8h-6.8zM310.7,231.8h6.8v6.8h-6.8zM313.1,230.8h6.8v6.8h-6.8zM315.5,231.4h6.8v6.8h-6.8zM317.9,227.9h6.8v6.8h-6.8zM320.3,229.6h6.8v6.8h-6.8zM322.7,225.4h6.8v6.8h-6.8zM325.1,224.3h6.8v6.8h-6.8zM327.5,222.0h6.8v6.8h-6.8zM329.9,220.2h6.8v6.8h-6.8zM332.3,219.9h6.8v6.8h-6.8zM334.7,217.2h6.8v6.8h-6.8zM337.1,215.6h6.8v6.8h-6.8zM339.5,215.0h6.8v6.8h-6.8zM341.9,212.7h6.8v6.8h-6.8zM344.3,210.2h6.8v6.8h-6.8zM346.7,208.7h6.8v6.8h-6.8zM349.1,206.8h6.8v6.8h-6.8zM351.5,204.7h6.8v6.8h-6.8zM353.9,202.7h6.8v6.8h-6.8zM356.3,200.5h6.8v6.8h-6.8zM358.7,198.3h6.8v6.8h-6.8zM361.1,196.3h6.8v6.8h-6.8zM363.5,195.1h6.8v6.8h-6.8zM365.9,193.9h6.8v6.8h-6.8zM368.3,193.6h6.8v6.8h-6.8zM370.7,193.5h6.8v6.8h-6.8zM373.1,193.5h6.8v6.8h-6.8zM375.5,193.5h6.8v6.8h-6.8zM377.9,193.5h6.8v6.8h-6.8zM380.3,193.5h6.8v6.8h-6.8zM382.7,193.5h6.8v6.8h-6.8zM385.1,193.5h6.8v6.8h-6.8zM387.5,193.7h6.8v6.8h-6.8zM389.9,194.4h6.8v6.8h-6.8zM392.3,195.2h6.8v6.8h-6.8zM394.7,195.9h6.8v6.8h-6.8zM397.1,196.7h6.8v6.8h-6.8zM399.5,197.5h6.8v6.8h-6.8zM401.9,198.2h6.8v6.8h-6.8zM404.3,199.0h6.8v6.8h-6.8zM406.7,199.7h6.8v6.8h-6.8zM409.1,200.5h6.8v6.8h-6.8zM411.5,201.3h6.8v6.8h-6.8zM413.9,202.3h6.8v6.8h-6.8zM416.3,203.4h6.8v6.8h-6.8zM418.7,204.5h6.8v6.8h-6.8zM421.1,205.5h6.8v6.8h-6.8zM423.5,206.6h6.8v6.8h-6.8zM425.9,207.7h6.8v6.8h-6.8zM428.3,208.7h6.8v6.8h-6.8zM430.7,210.4h6.8v6.8h-6.8zM433.1,212.0h6.8v6.8h-6.8zM435.5,214.1h6.8v6.8h-6.8zM437.9,215.2h6.8v6.8h-6.8zM440.3,217.2h6.8v6.8h-6.8zM442.7,219.6h6.8v6.8h-6.8zM445.1,220.7h6.8v6.8h-6.8zM447.5,223.3h6.8v6.8h-6.8zM449.9,225.6h6.8v6.8h-6.8zM452.3,227.9h6.8v6.8h-6.8zM454.7,229.0h6.8v6.8h-6.8zM457.1,233.7h6.8v6.8h-6.8zM459.5,233.7h6.8v6.8h-6.8zM461.9,237.3h6.8v6.8h-6.8zM464.3,238.1h6.8v6.8h-6.8zM466.7,241.3h6.8v6.8h-6.8zM469.1,245.2h6.8v6.8h-6.8zM471.5,249.3h6.8v6.8h-6.8zM473.9,253.8h6.8v6.8h-6.8zM476.3,252.3h6.8v6.8h-6.8zM478.7,258.2h6.8v6.8h-6.8zM481.1,257.2h6.8v6.8h-6.8zM483.5,262.2h6.8v6.8h-6.8zM485.9,265.3h6.8v6.8h-6.8zM488.3,266.9h6.8v6.8h-6.8zM490.7,270.4h6.8v6.8h-6.8zM493.1,274.0h6.8v6.8h-6.8zM495.5,276.2h6.8v6.8h-6.8zM497.9,279.7h6.8v6.8h-6.8zM500.3,282.4h6.8v6.8h-6.8zM502.7,284.4h6.8v6.8h-6.8z" fill="#ff0000" stroke="#d00000" stroke-width="0.5"/>
</g>
<g clip-path="url(#cb)">
<path d="M608.6,95.2V106.6M611.0,101.0V241.8M615.8,91.7V237.7M618.2,112.4V234.7M623.0,106.3V211.5M627.8,96.1V130.2M637.4,103.0V137.5M642.2,116.3V150.6M647.0,105.6V146.2M654.2,108.3V266.6M659.0,99.5V252.3M666.2,114.3V137.1M671.0,126.4V223.1M680.6,124.3V231.4M683.0,98.7V121.5M690.2,117.0V273.3M692.6,123.9V253.5M695.0,125.0V236.8M697.4,130.6V256.3M699.8,102.8V226.9M707.0,111.6V269.7M714.2,118.3V277.7M716.6,136.6V230.5M719.0,126.4V288.9M721.4,133.8V229.0M723.8,129.4V248.2M731.0,146.6V257.3M733.4,140.1V298.1M738.2,124.4V158.0M740.6,157.8V241.2M755.0,179.4V195.1M757.4,173.6V256.7M759.8,198.6V248.9M762.2,164.3V250.4M764.6,199.0V233.6M769.4,203.4V235.3M771.8,197.6V239.2M774.2,188.7V212.5M776.6,201.8V283.2M779.0,198.0V237.5M781.4,203.3V225.9M783.8,200.4V229.5M786.2,193.2V213.1M788.6,206.7V226.3M793.4,209.0V227.3M795.8,189.9V273.2M798.2,226.1V276.8M800.6,191.3V209.7M803.0,201.9V235.9M807.8,208.0V221.3M810.2,205.5V223.7M812.6,196.1V214.0M815.0,195.2V267.9M817.4,204.5V224.8M819.8,204.7V220.1M822.2,190.9V204.1M824.6,196.1V212.7M827.0,192.1V221.2M829.4,199.6V209.1M831.8,197.8V214.9M834.2,192.7V209.2M836.6,180.4V210.8M839.0,179.0V192.5M841.4,183.4V202.7M846.2,178.8V192.6M848.6,183.4V196.6M851.0,181.3V199.3M853.4,185.5V196.7M855.8,181.3V194.9M858.2,172.5V196.5M860.6,182.1V200.2M863.0,177.0V185.8M865.4,184.7V196.5M867.8,186.2V195.7M870.2,176.9V188.2M872.6,171.9V184.1M875.0,177.5V190.7M877.4,173.0V185.4M879.8,168.3V178.2M882.2,166.9V182.3M884.6,166.1V181.4M887.0,166.7V177.3M889.4,167.4V179.0M891.8,168.0V174.8M894.2,165.7V176.0M896.6,165.8V174.9M899.0,162.5V170.2M901.4,161.3V173.0M903.8,163.4V174.0M906.2,164.8V171.1M908.6,163.4V173.1M911.0,160.2V169.4M913.4,165.9V171.9M915.8,164.3V175.8M918.2,161.8V170.4M920.6,161.3V168.4M923.0,165.1V172.1M925.4,158.1V170.4M927.8,164.6V170.3" stroke="#b4b4ff" stroke-width="1" fill="none"/>
<path d="M604.6,94.4h8.0v1.6h-8.0zM604.6,105.8h8.0v1.6h-8.0zM607.0,100.2h8.0v1.6h-8.0zM607.0,241.0h8.0v1.6h-8.0zM611.8,90.9h8.0v1.6h-8.0zM611.8,236.9h8.0v1.6h-8.0zM614.2,111.6h8.0v1.6h-8.0zM614.2,233.9h8.0v1.6h-8.0zM619.0,105.5h8.0v1.6h-8.0zM619.0,210.7h8.0v1.6h-8.0zM623.8,95.3h8.0v1.6h-8.0zM623.8,129.4h8.0v1.6h-8.0zM633.4,102.2h8.0v1.6h-8.0zM633.4,136.7h8.0v1.6h-8.0zM638.2,115.5h8.0v1.6h-8.0zM638.2,149.8h8.0v1.6h-8.0zM643.0,104.8h8.0v1.6h-8.0zM643.0,145.4h8.0v1.6h-8.0zM650.2,107.5h8.0v1.6h-8.0zM650.2,265.8h8.0v1.6h-8.0zM655.0,98.7h8.0v1.6h-8.0zM655.0,251.5h8.0v1.6h-8.0zM662.2,113.5h8.0v1.6h-8.0zM662.2,136.3h8.0v1.6h-8.0zM667.0,125.6h8.0v1.6h-8.0zM667.0,222.3h8.0v1.6h-8.0zM676.6,123.5h8.0v1.6h-8.0zM676.6,230.6h8.0v1.6h-8.0zM679.0,97.9h8.0v1.6h-8.0zM679.0,120.7h8.0v1.6h-8.0zM686.2,116.2h8.0v1.6h-8.0zM686.2,272.5h8.0v1.6h-8.0zM688.6,123.1h8.0v1.6h-8.0zM688.6,252.7h8.0v1.6h-8.0zM691.0,124.2h8.0v1.6h-8.0zM691.0,236.0h8.0v1.6h-8.0zM693.4,129.8h8.0v1.6h-8.0zM693.4,255.5h8.0v1.6h-8.0zM695.8,102.0h8.0v1.6h-8.0zM695.8,226.1h8.0v1.6h-8.0zM703.0,110.8h8.0v1.6h-8.0zM703.0,268.9h8.0v1.6h-8.0zM710.2,117.5h8.0v1.6h-8.0zM710.2,276.9h8.0v1.6h-8.0zM712.6,135.8h8.0v1.6h-8.0zM712.6,229.7h8.0v1.6h-8.0zM715.0,125.6h8.0v1.6h-8.0zM715.0,288.1h8.0v1.6h-8.0zM717.4,133.0h8.0v1.6h-8.0zM717.4,228.2h8.0v1.6h-8.0zM719.8,128.6h8.0v1.6h-8.0zM719.8,247.4h8.0v1.6h-8.0zM727.0,145.8h8.0v1.6h-8.0zM727.0,256.5h8.0v1.6h-8.0zM729.4,139.3h8.0v1.6h-8.0zM729.4,297.3h8.0v1.6h-8.0zM734.2,123.6h8.0v1.6h-8.0zM734.2,157.2h8.0v1.6h-8.0zM736.6,157.0h8.0v1.6h-8.0zM736.6,240.4h8.0v1.6h-8.0zM751.0,178.6h8.0v1.6h-8.0zM751.0,194.3h8.0v1.6h-8.0zM753.4,172.8h8.0v1.6h-8.0zM753.4,255.9h8.0v1.6h-8.0zM755.8,197.8h8.0v1.6h-8.0zM755.8,248.1h8.0v1.6h-8.0zM758.2,163.5h8.0v1.6h-8.0zM758.2,249.6h8.0v1.6h-8.0zM760.6,198.2h8.0v1.6h-8.0zM760.6,232.8h8.0v1.6h-8.0zM765.4,202.6h8.0v1.6h-8.0zM765.4,234.5h8.0v1.6h-8.0zM767.8,196.8h8.0v1.6h-8.0zM767.8,238.4h8.0v1.6h-8.0zM770.2,187.9h8.0v1.6h-8.0zM770.2,211.7h8.0v1.6h-8.0zM772.6,201.0h8.0v1.6h-8.0zM772.6,282.4h8.0v1.6h-8.0zM775.0,197.2h8.0v1.6h-8.0zM775.0,236.7h8.0v1.6h-8.0zM777.4,202.5h8.0v1.6h-8.0zM777.4,225.1h8.0v1.6h-8.0zM779.8,199.6h8.0v1.6h-8.0zM779.8,228.7h8.0v1.6h-8.0zM782.2,192.4h8.0v1.6h-8.0zM782.2,212.3h8.0v1.6h-8.0zM784.6,205.9h8.0v1.6h-8.0zM784.6,225.5h8.0v1.6h-8.0zM789.4,208.2h8.0v1.6h-8.0zM789.4,226.5h8.0v1.6h-8.0zM791.8,189.1h8.0v1.6h-8.0zM791.8,272.4h8.0v1.6h-8.0zM794.2,225.3h8.0v1.6h-8.0zM794.2,276.0h8.0v1.6h-8.0zM796.6,190.5h8.0v1.6h-8.0zM796.6,208.9h8.0v1.6h-8.0zM799.0,201.1h8.0v1.6h-8.0zM799.0,235.1h8.0v1.6h-8.0zM803.8,207.2h8.0v1.6h-8.0zM803.8,220.5h8.0v1.6h-8.0zM806.2,204.7h8.0v1.6h-8.0zM806.2,222.9h8.0v1.6h-8.0zM808.6,195.3h8.0v1.6h-8.0zM808.6,213.2h8.0v1.6h-8.0zM811.0,194.4h8.0v1.6h-8.0zM811.0,267.1h8.0v1.6h-8.0zM813.4,203.7h8.0v1.6h-8.0zM813.4,224.0h8.0v1.6h-8.0zM815.8,203.9h8.0v1.6h-8.0zM815.8,219.3h8.0v1.6h-8.0zM818.2,190.1h8.0v1.6h-8.0zM818.2,203.3h8.0v1.6h-8.0zM820.6,195.3h8.0v1.6h-8.0zM820.6,211.9h8.0v1.6h-8.0zM823.0,191.3h8.0v1.6h-8.0zM823.0,220.4h8.0v1.6h-8.0zM825.4,198.8h8.0v1.6h-8.0zM825.4,208.3h8.0v1.6h-8.0zM827.8,197.0h8.0v1.6h-8.0zM827.8,214.1h8.0v1.6h-8.0zM830.2,191.9h8.0v1.6h-8.0zM830.2,208.4h8.0v1.6h-8.0zM832.6,179.6h8.0v1.6h-8.0zM832.6,210.0h8.0v1.6h-8.0zM835.0,178.2h8.0v1.6h-8.0zM835.0,191.7h8.0v1.6h-8.0zM837.4,182.6h8.0v1.6h-8.0zM837.4,201.9h8.0v1.6h-8.0zM842.2,178.0h8.0v1.6h-8.0zM842.2,191.8h8.0v1.6h-8.0zM844.6,182.6h8.0v1.6h-8.0zM844.6,195.8h8.0v1.6h-8.0zM847.0,180.5h8.0v1.6h-8.0zM847.0,198.5h8.0v1.6h-8.0zM849.4,184.7h8.0v1.6h-8.0zM849.4,195.9h8.0v1.6h-8.0zM851.8,180.5h8.0v1.6h-8.0zM851.8,194.1h8.0v1.6h-8.0zM854.2,171.7h8.0v1.6h-8.0zM854.2,195.7h8.0v1.6h-8.0zM856.6,181.3h8.0v1.6h-8.0zM856.6,199.4h8.0v1.6h-8.0zM859.0,176.2h8.0v1.6h-8.0zM859.0,185.0h8.0v1.6h-8.0zM861.4,183.9h8.0v1.6h-8.0zM861.4,195.7h8.0v1.6h-8.0zM863.8,185.4h8.0v1.6h-8.0zM863.8,194.9h8.0v1.6h-8.0zM866.2,176.1h8.0v1.6h-8.0zM866.2,187.4h8.0v1.6h-8.0zM868.6,171.1h8.0v1.6h-8.0zM868.6,183.3h8.0v1.6h-8.0zM871.0,176.7h8.0v1.6h-8.0zM871.0,189.9h8.0v1.6h-8.0zM873.4,172.2h8.0v1.6h-8.0zM873.4,184.6h8.0v1.6h-8.0zM875.8,167.5h8.0v1.6h-8.0zM875.8,177.4h8.0v1.6h-8.0zM878.2,166.1h8.0v1.6h-8.0zM878.2,181.5h8.0v1.6h-8.0zM880.6,165.3h8.0v1.6h-8.0zM880.6,180.6h8.0v1.6h-8.0zM883.0,165.9h8.0v1.6h-8.0zM883.0,176.5h8.0v1.6h-8.0zM885.4,166.6h8.0v1.6h-8.0zM885.4,178.2h8.0v1.6h-8.0zM887.8,167.2h8.0v1.6h-8.0zM887.8,174.0h8.0v1.6h-8.0zM890.2,164.9h8.0v1.6h-8.0zM890.2,175.2h8.0v1.6h-8.0zM892.6,165.0h8.0v1.6h-8.0zM892.6,174.1h8.0v1.6h-8.0zM895.0,161.7h8.0v1.6h-8.0zM895.0,169.4h8.0v1.6h-8.0zM897.4,160.5h8.0v1.6h-8.0zM897.4,172.2h8.0v1.6h-8.0zM899.8,162.6h8.0v1.6h-8.0zM899.8,173.2h8.0v1.6h-8.0zM902.2,164.0h8.0v1.6h-8.0zM902.2,170.3h8.0v1.6h-8.0zM904.6,162.6h8.0v1.6h-8.0zM904.6,172.3h8.0v1.6h-8.0zM907.0,159.4h8.0v1.6h-8.0zM907.0,168.6h8.0v1.6h-8.0zM909.4,165.1h8.0v1.6h-8.0zM909.4,171.1h8.0v1.6h-8.0zM911.8,163.5h8.0v1.6h-8.0zM911.8,175.0h8.0v1.6h-8.0zM914.2,161.0h8.0v1.6h-8.0zM914.2,169.6h8.0v1.6h-8.0zM916.6,160.5h8.0v1.6h-8.0zM916.6,167.6h8.0v1.6h-8.0zM919.0,164.3h8.0v1.6h-8.0zM919.0,171.3h8.0v1.6h-8.0zM921.4,157.3h8.0v1.6h-8.0zM921.4,169.6h8.0v1.6h-8.0zM923.8,163.8h8.0v1.6h-8.0zM923.8,169.5h8.0v1.6h-8.0z" fill="#0000ff"/>
<path d="M605.2,96.8h6.8v6.8h-6.8zM607.6,111.6h6.8v6.8h-6.8zM612.4,115.3h6.8v6.8h-6.8zM614.8,115.3h6.8v6.8h-6.8zM619.6,116.3h6.8v6.8h-6.8zM624.4,107.5h6.8v6.8h-6.8zM634.0,114.6h6.8v6.8h-6.8zM638.8,127.8h6.8v6.8h-6.8zM643.6,119.9h6.8v6.8h-6.8zM650.8,120.7h6.8v6.8h-6.8zM655.6,109.0h6.8v6.8h-6.8zM662.8,120.8h6.8v6.8h-6.8zM667.6,132.7h6.8v6.8h-6.8zM677.2,130.2h6.8v6.8h-6.8zM679.6,105.2h6.8v6.8h-6.8zM686.8,123.8h6.8v6.8h-6.8zM689.2,129.8h6.8v6.8h-6.8zM691.6,134.2h6.8v6.8h-6.8zM694.0,138.4h6.8v6.8h-6.8zM696.4,113.2h6.8v6.8h-6.8zM703.6,122.4h6.8v6.8h-6.8zM710.8,133.1h6.8v6.8h-6.8zM713.2,142.8h6.8v6.8h-6.8zM715.6,130.2h6.8v6.8h-6.8zM718.0,136.4h6.8v6.8h-6.8zM720.4,139.1h6.8v6.8h-6.8zM727.6,149.2h6.8v6.8h-6.8zM730.0,147.5h6.8v6.8h-6.8zM734.8,135.6h6.8v6.8h-6.8zM737.2,163.9h6.8v6.8h-6.8zM751.6,182.8h6.8v6.8h-6.8zM754.0,176.7h6.8v6.8h-6.8zM756.4,205.3h6.8v6.8h-6.8zM758.8,174.5h6.8v6.8h-6.8zM761.2,210.6h6.8v6.8h-6.8zM766.0,213.8h6.8v6.8h-6.8zM768.4,200.8h6.8v6.8h-6.8zM770.8,195.6h6.8v6.8h-6.8zM773.2,213.5h6.8v6.8h-6.8zM775.6,211.8h6.8v6.8h-6.8zM778.0,209.7h6.8v6.8h-6.8zM780.4,209.7h6.8v6.8h-6.8zM782.8,198.5h6.8v6.8h-6.8zM785.2,211.9h6.8v6.8h-6.8zM790.0,213.6h6.8v6.8h-6.8zM792.4,193.9h6.8v6.8h-6.8zM794.8,228.6h6.8v6.8h-6.8zM797.2,195.9h6.8v6.8h-6.8zM799.6,207.5h6.8v6.8h-6.8zM804.4,210.3h6.8v6.8h-6.8zM806.8,210.0h6.8v6.8h-6.8zM809.2,200.5h6.8v6.8h-6.8zM811.6,198.1h6.8v6.8h-6.8zM814.0,209.9h6.8v6.8h-6.8zM816.4,208.0h6.8v6.8h-6.8zM818.8,193.2h6.8v6.8h-6.8zM821.2,199.9h6.8v6.8h-6.8zM823.6,201.4h6.8v6.8h-6.8zM826.0,200.3h6.8v6.8h-6.8zM828.4,201.9h6.8v6.8h-6.8zM830.8,196.5h6.8v6.8h-6.8zM833.2,190.2h6.8v6.8h-6.8zM835.6,181.5h6.8v6.8h-6.8zM838.0,188.4h6.8v6.8h-6.8zM842.8,181.4h6.8v6.8h-6.8zM845.2,185.8h6.8v6.8h-6.8zM847.6,185.7h6.8v6.8h-6.8zM850.0,187.0h6.8v6.8h-6.8zM852.4,183.8h6.8v6.8h-6.8zM854.8,179.5h6.8v6.8h-6.8zM857.2,186.6h6.8v6.8h-6.8zM859.6,177.4h6.8v6.8h-6.8zM862.0,186.5h6.8v6.8h-6.8zM864.4,187.0h6.8v6.8h-6.8zM866.8,178.4h6.8v6.8h-6.8zM869.2,173.8h6.8v6.8h-6.8zM871.6,179.8h6.8v6.8h-6.8zM874.0,175.0h6.8v6.8h-6.8zM876.4,169.2h6.8v6.8h-6.8zM878.8,170.2h6.8v6.8h-6.8zM881.2,169.4h6.8v6.8h-6.8zM883.6,167.9h6.8v6.8h-6.8zM886.0,169.1h6.8v6.8h-6.8zM888.4,167.5h6.8v6.8h-6.8zM890.8,166.8h6.8v6.8h-6.8zM893.2,166.3h6.8v6.8h-6.8zM895.6,162.5h6.8v6.8h-6.8zM898.0,163.0h6.8v6.8h-6.8zM900.4,164.6h6.8v6.8h-6.8zM902.8,164.1h6.8v6.8h-6.8zM905.2,164.2h6.8v6.8h-6.8zM907.6,160.8h6.8v6.8h-6.8zM910.0,165.1h6.8v6.8h-6.8zM912.4,165.9h6.8v6.8h-6.8zM914.8,162.1h6.8v6.8h-6.8zM917.2,161.0h6.8v6.8h-6.8zM919.6,164.7h6.8v6.8h-6.8zM922.0,160.0h6.8v6.8h-6.8zM924.4,163.7h6.8v6.8h-6.8zM926.8,157.5h6.8v6.8h-6.8zM929.2,163.3h6.8v6.8h-6.8zM931.6,161.6h6.8v6.8h-6.8zM934.0,159.8h6.8v6.8h-6.8zM936.4,158.2h6.8v6.8h-6.8zM938.8,160.2h6.8v6.8h-6.8zM941.2,159.1h6.8v6.8h-6.8zM943.6,163.7h6.8v6.8h-6.8zM946.0,161.9h6.8v6.8h-6.8zM948.4,166.1h6.8v6.8h-6.8zM950.8,163.7h6.8v6.8h-6.8zM953.2,167.9h6.8v6.8h-6.8zM955.6,165.4h6.8v6.8h-6.8zM958.0,163.2h6.8v6.8h-6.8zM960.4,168.0h6.8v6.8h-6.8zM962.8,166.9h6.8v6.8h-6.8zM965.2,169.0h6.8v6.8h-6.8zM967.6,168.9h6.8v6.8h-6.8zM970.0,169.8h6.8v6.8h-6.8zM972.4,173.2h6.8v6.8h-6.8zM974.8,174.9h6.8v6.8h-6.8zM977.2,170.9h6.8v6.8h-6.8zM979.6,177.2h6.8v6.8h-6.8zM982.0,176.6h6.8v6.8h-6.8zM984.4,179.4h6.8v6.8h-6.8zM986.8,181.5h6.8v6.8h-6.8zM989.2,183.2h6.8v6.8h-6.8zM991.6,186.2h6.8v6.8h-6.8zM994.0,185.7h6.8v6.8h-6.8zM996.4,189.7h6.8v6.8h-6.8zM998.8,192.7h6.8v6.8h-6.8zM1001.2,197.8h6.8v6.8h-6.8zM1003.6,200.4h6.8v6.8h-6.8zM1006.0,203.2h6.8v6.8h-6.8zM1008.4,205.1h6.8v6.8h-6.8zM1010.8,210.0h6.8v6.8h-6.8zM1013.2,212.8h6.8v6.8h-6.8zM1015.6,213.9h6.8v6.8h-6.8zM1018.0,216.9h6.8v6.8h-6.8zM1020.4,220.4h6.8v6.8h-6.8zM1022.8,221.0h6.8v6.8h-6.8zM1025.2,226.0h6.8v6.8h-6.8zM1027.6,229.5h6.8v6.8h-6.8zM1030.0,234.7h6.8v6.8h-6.8zM1032.4,238.0h6.8v6.8h-6.8zM1034.8,234.3h6.8v6.8h-6.8zM1037.2,238.8h6.8v6.8h-6.8z" fill="#0000ff" stroke="#0000c0" stroke-width="0.5"/>
<path d="M606.2,136.5V254.3M607.7,129.9V147.5M609.2,113.2V139.0M610.7,127.8V142.5M612.2,128.6V151.1M613.7,110.6V119.1M615.2,144.7V156.0M616.7,129.1V224.3M618.2,118.9V205.0M619.7,143.7V160.8M621.2,111.3V273.8M622.7,148.7V163.6M624.2,113.9V132.1M625.7,134.7V153.3M627.2,113.0V226.2M628.7,140.6V245.5M630.2,135.0V143.6M631.7,111.4V124.3M633.2,137.9V151.0M634.7,124.1V135.0M636.2,113.4V130.3M637.7,134.5V159.5M639.2,155.2V167.2M640.7,119.0V134.7M642.2,137.1V150.9M643.7,133.0V150.9M645.2,129.3V135.7M646.7,134.1V159.1M648.2,136.0V264.2M649.7,133.0V144.9M651.2,132.8V146.4M652.7,135.6V146.7M654.2,143.5V157.6M655.7,150.4V290.3M657.2,130.5V145.3M658.7,139.9V150.8M660.2,139.9V158.5M661.7,132.4V147.2M663.2,127.1V288.5M664.7,151.3V163.6M666.2,126.0V245.4M667.7,138.8V148.6M669.2,136.2V146.3M670.7,135.6V149.7M672.2,152.1V166.5M673.7,143.2V153.9M675.2,152.8V163.2M676.7,156.5V165.3M678.2,130.6V143.2M679.7,147.7V171.1M681.2,144.5V162.2M682.7,149.5V162.8M684.2,150.7V158.7M685.7,152.1V159.8M687.2,129.0V137.3M688.7,148.1V235.0M690.2,159.0V182.9M691.7,153.3V172.6M693.2,159.1V177.0M694.7,154.2V164.7M696.2,152.1V162.3M697.7,151.6V238.6M699.2,164.8V172.6M700.7,144.4V171.7M702.2,153.6V168.8M703.7,158.1V168.9M705.2,160.9V173.2M706.7,161.0V173.8M708.2,150.6V210.8M709.7,148.0V158.2M711.2,157.8V168.7M712.7,154.0V171.5M714.2,164.8V178.6M715.7,161.5V177.6M717.2,162.9V176.6M718.7,167.0V185.4M720.2,156.3V166.8M721.7,159.6V167.3M723.2,161.1V169.2M724.7,167.6V176.6M726.2,167.3V286.3M727.7,164.2V173.6M729.2,174.9V181.6M730.7,166.7V178.4M732.2,168.6V280.2M733.7,162.6V169.2M735.2,170.3V267.2M736.7,183.3V192.6M738.2,165.3V177.8M739.7,174.1V181.3M741.2,169.0V184.1M742.7,174.0V188.5M744.2,182.3V193.5M745.7,182.2V196.4M747.2,163.6V221.2M748.7,174.7V194.3M750.2,173.3V184.0M751.7,176.6V185.2M753.2,178.4V198.3M754.7,185.0V194.8M756.2,181.8V196.8M757.7,188.8V200.6M759.2,186.9V205.6M760.7,176.6V186.6M762.2,179.8V190.0M763.7,183.7V261.4M765.2,186.2V201.7M766.7,186.3V196.9M768.2,185.4V196.1M769.7,193.3V202.8M771.2,191.5V198.2M772.7,198.3V205.3M774.2,192.6V200.5M775.7,185.3V197.2M777.2,192.5V201.0M778.7,186.1V190.3M780.2,182.3V187.0M781.7,188.2V197.3M783.2,187.7V199.2" stroke="#a8dca8" stroke-width="1" fill="none"/>
<path d="M602.2,135.7h8.0v1.6h-8.0zM602.2,253.5h8.0v1.6h-8.0zM603.7,129.1h8.0v1.6h-8.0zM603.7,146.7h8.0v1.6h-8.0zM605.2,112.4h8.0v1.6h-8.0zM605.2,138.2h8.0v1.6h-8.0zM606.7,127.0h8.0v1.6h-8.0zM606.7,141.7h8.0v1.6h-8.0zM608.2,127.8h8.0v1.6h-8.0zM608.2,150.3h8.0v1.6h-8.0zM609.7,109.8h8.0v1.6h-8.0zM609.7,118.3h8.0v1.6h-8.0zM611.2,143.9h8.0v1.6h-8.0zM611.2,155.2h8.0v1.6h-8.0zM612.7,128.3h8.0v1.6h-8.0zM612.7,223.5h8.0v1.6h-8.0zM614.2,118.1h8.0v1.6h-8.0zM614.2,204.2h8.0v1.6h-8.0zM615.7,142.9h8.0v1.6h-8.0zM615.7,160.0h8.0v1.6h-8.0zM617.2,110.5h8.0v1.6h-8.0zM617.2,273.0h8.0v1.6h-8.0zM618.7,147.9h8.0v1.6h-8.0zM618.7,162.8h8.0v1.6h-8.0zM620.2,113.1h8.0v1.6h-8.0zM620.2,131.3h8.0v1.6h-8.0zM621.7,133.9h8.0v1.6h-8.0zM621.7,152.5h8.0v1.6h-8.0zM623.2,112.2h8.0v1.6h-8.0zM623.2,225.4h8.0v1.6h-8.0zM624.7,139.8h8.0v1.6h-8.0zM624.7,244.7h8.0v1.6h-8.0zM626.2,134.2h8.0v1.6h-8.0zM626.2,142.8h8.0v1.6h-8.0zM627.7,110.6h8.0v1.6h-8.0zM627.7,123.5h8.0v1.6h-8.0zM629.2,137.1h8.0v1.6h-8.0zM629.2,150.2h8.0v1.6h-8.0zM630.7,123.3h8.0v1.6h-8.0zM630.7,134.2h8.0v1.6h-8.0zM632.2,112.6h8.0v1.6h-8.0zM632.2,129.5h8.0v1.6h-8.0zM633.7,133.7h8.0v1.6h-8.0zM633.7,158.7h8.0v1.6h-8.0zM635.2,154.4h8.0v1.6h-8.0zM635.2,166.4h8.0v1.6h-8.0zM636.7,118.2h8.0v1.6h-8.0zM636.7,133.9h8.0v1.6h-8.0zM638.2,136.3h8.0v1.6h-8.0zM638.2,150.1h8.0v1.6h-8.0zM639.7,132.2h8.0v1.6h-8.0zM639.7,150.1h8.0v1.6h-8.0zM641.2,128.5h8.0v1.6h-8.0zM641.2,134.9h8.0v1.6h-8.0zM642.7,133.3h8.0v1.6h-8.0zM642.7,158.3h8.0v1.6h-8.0zM644.2,135.2h8.0v1.6h-8.0zM644.2,263.4h8.0v1.6h-8.0zM645.7,132.2h8.0v1.6h-8.0zM645.7,144.1h8.0v1.6h-8.0zM647.2,132.0h8.0v1.6h-8.0zM647.2,145.6h8.0v1.6h-8.0zM648.7,134.8h8.0v1.6h-8.0zM648.7,145.9h8.0v1.6h-8.0zM650.2,142.7h8.0v1.6h-8.0zM650.2,156.8h8.0v1.6h-8.0zM651.7,149.6h8.0v1.6h-8.0zM651.7,289.5h8.0v1.6h-8.0zM653.2,129.7h8.0v1.6h-8.0zM653.2,144.5h8.0v1.6h-8.0zM654.7,139.1h8.0v1.6h-8.0zM654.7,150.0h8.0v1.6h-8.0zM656.2,139.1h8.0v1.6h-8.0zM656.2,157.7h8.0v1.6h-8.0zM657.7,131.6h8.0v1.6h-8.0zM657.7,146.4h8.0v1.6h-8.0zM659.2,126.3h8.0v1.6h-8.0zM659.2,287.7h8.0v1.6h-8.0zM660.7,150.5h8.0v1.6h-8.0zM660.7,162.8h8.0v1.6h-8.0zM662.2,125.2h8.0v1.6h-8.0zM662.2,244.6h8.0v1.6h-8.0zM663.7,138.0h8.0v1.6h-8.0zM663.7,147.8h8.0v1.6h-8.0zM665.2,135.4h8.0v1.6h-8.0zM665.2,145.5h8.0v1.6h-8.0zM666.7,134.8h8.0v1.6h-8.0zM666.7,148.9h8.0v1.6h-8.0zM668.2,151.3h8.0v1.6h-8.0zM668.2,165.7h8.0v1.6h-8.0zM669.7,142.4h8.0v1.6h-8.0zM669.7,153.1h8.0v1.6h-8.0zM671.2,152.0h8.0v1.6h-8.0zM671.2,162.4h8.0v1.6h-8.0zM672.7,155.7h8.0v1.6h-8.0zM672.7,164.5h8.0v1.6h-8.0zM674.2,129.8h8.0v1.6h-8.0zM674.2,142.4h8.0v1.6h-8.0zM675.7,146.9h8.0v1.6h-8.0zM675.7,170.3h8.0v1.6h-8.0zM677.2,143.7h8.0v1.6h-8.0zM677.2,161.4h8.0v1.6h-8.0zM678.7,148.7h8.0v1.6h-8.0zM678.7,162.0h8.0v1.6h-8.0zM680.2,149.9h8.0v1.6h-8.0zM680.2,157.9h8.0v1.6h-8.0zM681.7,151.3h8.0v1.6h-8.0zM681.7,159.0h8.0v1.6h-8.0zM683.2,128.2h8.0v1.6h-8.0zM683.2,136.5h8.0v1.6h-8.0zM684.7,147.3h8.0v1.6h-8.0zM684.7,234.2h8.0v1.6h-8.0zM686.2,158.2h8.0v1.6h-8.0zM686.2,182.1h8.0v1.6h-8.0zM687.7,152.5h8.0v1.6h-8.0zM687.7,171.8h8.0v1.6h-8.0zM689.2,158.3h8.0v1.6h-8.0zM689.2,176.2h8.0v1.6h-8.0zM690.7,153.4h8.0v1.6h-8.0zM690.7,163.9h8.0v1.6h-8.0zM692.2,151.3h8.0v1.6h-8.0zM692.2,161.5h8.0v1.6h-8.0zM693.7,150.8h8.0v1.6h-8.0zM693.7,237.8h8.0v1.6h-8.0zM695.2,164.0h8.0v1.6h-8.0zM695.2,171.8h8.0v1.6h-8.0zM696.7,143.6h8.0v1.6h-8.0zM696.7,170.9h8.0v1.6h-8.0zM698.2,152.8h8.0v1.6h-8.0zM698.2,168.0h8.0v1.6h-8.0zM699.7,157.3h8.0v1.6h-8.0zM699.7,168.1h8.0v1.6h-8.0zM701.2,160.1h8.0v1.6h-8.0zM701.2,172.4h8.0v1.6h-8.0zM702.7,160.2h8.0v1.6h-8.0zM702.7,173.0h8.0v1.6h-8.0zM704.2,149.8h8.0v1.6h-8.0zM704.2,210.0h8.0v1.6h-8.0zM705.7,147.2h8.0v1.6h-8.0zM705.7,157.4h8.0v1.6h-8.0zM707.2,157.0h8.0v1.6h-8.0zM707.2,167.9h8.0v1.6h-8.0zM708.7,153.2h8.0v1.6h-8.0zM708.7,170.7h8.0v1.6h-8.0zM710.2,164.0h8.0v1.6h-8.0zM710.2,177.8h8.0v1.6h-8.0zM711.7,160.7h8.0v1.6h-8.0zM711.7,176.8h8.0v1.6h-8.0zM713.2,162.1h8.0v1.6h-8.0zM713.2,175.8h8.0v1.6h-8.0zM714.7,166.2h8.0v1.6h-8.0zM714.7,184.6h8.0v1.6h-8.0zM716.2,155.5h8.0v1.6h-8.0zM716.2,166.0h8.0v1.6h-8.0zM717.7,158.8h8.0v1.6h-8.0zM717.7,166.5h8.0v1.6h-8.0zM719.2,160.3h8.0v1.6h-8.0zM719.2,168.4h8.0v1.6h-8.0zM720.7,166.8h8.0v1.6h-8.0zM720.7,175.8h8.0v1.6h-8.0zM722.2,166.5h8.0v1.6h-8.0zM722.2,285.5h8.0v1.6h-8.0zM723.7,163.4h8.0v1.6h-8.0zM723.7,172.8h8.0v1.6h-8.0zM725.2,174.1h8.0v1.6h-8.0zM725.2,180.8h8.0v1.6h-8.0zM726.7,165.9h8.0v1.6h-8.0zM726.7,177.6h8.0v1.6h-8.0zM728.2,167.8h8.0v1.6h-8.0zM728.2,279.4h8.0v1.6h-8.0zM729.7,161.8h8.0v1.6h-8.0zM729.7,168.4h8.0v1.6h-8.0zM731.2,169.5h8.0v1.6h-8.0zM731.2,266.4h8.0v1.6h-8.0zM732.7,182.5h8.0v1.6h-8.0zM732.7,191.8h8.0v1.6h-8.0zM734.2,164.5h8.0v1.6h-8.0zM734.2,177.0h8.0v1.6h-8.0zM735.7,173.3h8.0v1.6h-8.0zM735.7,180.5h8.0v1.6h-8.0zM737.2,168.2h8.0v1.6h-8.0zM737.2,183.3h8.0v1.6h-8.0zM738.7,173.2h8.0v1.6h-8.0zM738.7,187.7h8.0v1.6h-8.0zM740.2,181.5h8.0v1.6h-8.0zM740.2,192.7h8.0v1.6h-8.0zM741.7,181.4h8.0v1.6h-8.0zM741.7,195.6h8.0v1.6h-8.0zM743.2,162.8h8.0v1.6h-8.0zM743.2,220.4h8.0v1.6h-8.0zM744.7,173.9h8.0v1.6h-8.0zM744.7,193.5h8.0v1.6h-8.0zM746.2,172.5h8.0v1.6h-8.0zM746.2,183.2h8.0v1.6h-8.0zM747.7,175.8h8.0v1.6h-8.0zM747.7,184.4h8.0v1.6h-8.0zM749.2,177.6h8.0v1.6h-8.0zM749.2,197.5h8.0v1.6h-8.0zM750.7,184.2h8.0v1.6h-8.0zM750.7,194.0h8.0v1.6h-8.0zM752.2,181.0h8.0v1.6h-8.0zM752.2,196.0h8.0v1.6h-8.0zM753.7,188.0h8.0v1.6h-8.0zM753.7,199.8h8.0v1.6h-8.0zM755.2,186.1h8.0v1.6h-8.0zM755.2,204.8h8.0v1.6h-8.0zM756.7,175.8h8.0v1.6h-8.0zM756.7,185.8h8.0v1.6h-8.0zM758.2,179.0h8.0v1.6h-8.0zM758.2,189.2h8.0v1.6h-8.0zM759.7,182.9h8.0v1.6h-8.0zM759.7,260.6h8.0v1.6h-8.0zM761.2,185.4h8.0v1.6h-8.0zM761.2,200.9h8.0v1.6h-8.0zM762.7,185.5h8.0v1.6h-8.0zM762.7,196.1h8.0v1.6h-8.0zM764.2,184.6h8.0v1.6h-8.0zM764.2,195.3h8.0v1.6h-8.0zM765.7,192.5h8.0v1.6h-8.0zM765.7,202.0h8.0v1.6h-8.0zM767.2,190.7h8.0v1.6h-8.0zM767.2,197.4h8.0v1.6h-8.0zM768.7,197.5h8.0v1.6h-8.0zM768.7,204.5h8.0v1.6h-8.0zM770.2,191.8h8.0v1.6h-8.0zM770.2,199.7h8.0v1.6h-8.0zM771.7,184.5h8.0v1.6h-8.0zM771.7,196.4h8.0v1.6h-8.0zM773.2,191.7h8.0v1.6h-8.0zM773.2,200.2h8.0v1.6h-8.0zM774.7,185.3h8.0v1.6h-8.0zM774.7,189.5h8.0v1.6h-8.0zM776.2,181.5h8.0v1.6h-8.0zM776.2,186.2h8.0v1.6h-8.0zM777.7,187.4h8.0v1.6h-8.0zM777.7,196.5h8.0v1.6h-8.0zM779.2,186.9h8.0v1.6h-8.0zM779.2,198.4h8.0v1.6h-8.0z" fill="#00a000"/>
<path d="M602.8,137.0h6.8v6.8h-6.8zM604.3,134.2h6.8v6.8h-6.8zM605.8,121.0h6.8v6.8h-6.8zM607.3,130.8h6.8v6.8h-6.8zM608.8,135.0h6.8v6.8h-6.8zM610.3,110.9h6.8v6.8h-6.8zM611.8,146.2h6.8v6.8h-6.8zM613.3,130.4h6.8v6.8h-6.8zM614.8,121.3h6.8v6.8h-6.8zM616.3,147.7h6.8v6.8h-6.8zM617.8,111.6h6.8v6.8h-6.8zM619.3,151.8h6.8v6.8h-6.8zM620.8,118.4h6.8v6.8h-6.8zM622.3,139.4h6.8v6.8h-6.8zM623.8,115.1h6.8v6.8h-6.8zM625.3,144.5h6.8v6.8h-6.8zM626.8,135.4h6.8v6.8h-6.8zM628.3,113.6h6.8v6.8h-6.8zM629.8,140.2h6.8v6.8h-6.8zM631.3,125.4h6.8v6.8h-6.8zM632.8,117.3h6.8v6.8h-6.8zM634.3,142.0h6.8v6.8h-6.8zM635.8,157.1h6.8v6.8h-6.8zM637.3,122.4h6.8v6.8h-6.8zM638.8,139.7h6.8v6.8h-6.8zM640.3,137.4h6.8v6.8h-6.8zM641.8,128.6h6.8v6.8h-6.8zM643.3,141.6h6.8v6.8h-6.8zM644.8,137.1h6.8v6.8h-6.8zM646.3,134.8h6.8v6.8h-6.8zM647.8,135.3h6.8v6.8h-6.8zM649.3,137.0h6.8v6.8h-6.8zM650.8,146.2h6.8v6.8h-6.8zM652.3,152.8h6.8v6.8h-6.8zM653.8,133.5h6.8v6.8h-6.8zM655.3,141.2h6.8v6.8h-6.8zM656.8,144.6h6.8v6.8h-6.8zM658.3,135.5h6.8v6.8h-6.8zM659.8,130.7h6.8v6.8h-6.8zM661.3,153.2h6.8v6.8h-6.8zM662.8,134.0h6.8v6.8h-6.8zM664.3,139.7h6.8v6.8h-6.8zM665.8,137.2h6.8v6.8h-6.8zM667.3,138.3h6.8v6.8h-6.8zM668.8,155.0h6.8v6.8h-6.8zM670.3,144.5h6.8v6.8h-6.8zM671.8,153.9h6.8v6.8h-6.8zM673.3,156.9h6.8v6.8h-6.8zM674.8,132.7h6.8v6.8h-6.8zM676.3,154.5h6.8v6.8h-6.8zM677.8,148.8h6.8v6.8h-6.8zM679.3,151.9h6.8v6.8h-6.8zM680.8,150.8h6.8v6.8h-6.8zM682.3,152.1h6.8v6.8h-6.8zM683.8,129.2h6.8v6.8h-6.8zM685.3,149.0h6.8v6.8h-6.8zM686.8,166.0h6.8v6.8h-6.8zM688.3,158.3h6.8v6.8h-6.8zM689.8,163.5h6.8v6.8h-6.8zM691.3,155.3h6.8v6.8h-6.8zM692.8,153.1h6.8v6.8h-6.8zM694.3,151.5h6.8v6.8h-6.8zM695.8,164.8h6.8v6.8h-6.8zM697.3,152.9h6.8v6.8h-6.8zM698.8,156.8h6.8v6.8h-6.8zM700.3,159.4h6.8v6.8h-6.8zM701.8,162.8h6.8v6.8h-6.8zM703.3,163.2h6.8v6.8h-6.8zM704.8,150.1h6.8v6.8h-6.8zM706.3,149.1h6.8v6.8h-6.8zM707.8,159.1h6.8v6.8h-6.8zM709.3,158.2h6.8v6.8h-6.8zM710.8,167.4h6.8v6.8h-6.8zM712.3,165.1h6.8v6.8h-6.8zM713.8,165.5h6.8v6.8h-6.8zM715.3,171.6h6.8v6.8h-6.8zM716.8,157.5h6.8v6.8h-6.8zM718.3,159.6h6.8v6.8h-6.8zM719.8,161.2h6.8v6.8h-6.8zM721.3,168.1h6.8v6.8h-6.8zM722.8,169.1h6.8v6.8h-6.8zM724.3,164.9h6.8v6.8h-6.8zM725.8,174.4h6.8v6.8h-6.8zM727.3,168.4h6.8v6.8h-6.8zM728.8,170.9h6.8v6.8h-6.8zM730.3,162.0h6.8v6.8h-6.8zM731.8,172.0h6.8v6.8h-6.8zM733.3,184.0h6.8v6.8h-6.8zM734.8,167.3h6.8v6.8h-6.8zM736.3,173.8h6.8v6.8h-6.8zM737.8,172.1h6.8v6.8h-6.8zM739.3,176.9h6.8v6.8h-6.8zM740.8,183.8h6.8v6.8h-6.8zM742.3,185.0h6.8v6.8h-6.8zM743.8,166.1h6.8v6.8h-6.8zM745.3,179.8h6.8v6.8h-6.8zM746.8,174.5h6.8v6.8h-6.8zM748.3,177.0h6.8v6.8h-6.8zM749.8,183.7h6.8v6.8h-6.8zM751.3,185.9h6.8v6.8h-6.8zM752.8,184.9h6.8v6.8h-6.8zM754.3,190.6h6.8v6.8h-6.8zM755.8,191.6h6.8v6.8h-6.8zM757.3,177.6h6.8v6.8h-6.8zM758.8,180.8h6.8v6.8h-6.8zM760.3,184.4h6.8v6.8h-6.8zM761.8,189.5h6.8v6.8h-6.8zM763.3,187.5h6.8v6.8h-6.8zM764.8,186.6h6.8v6.8h-6.8zM766.3,194.1h6.8v6.8h-6.8zM767.8,191.0h6.8v6.8h-6.8zM769.3,197.9h6.8v6.8h-6.8zM770.8,192.6h6.8v6.8h-6.8zM772.3,187.1h6.8v6.8h-6.8zM773.8,192.8h6.8v6.8h-6.8zM775.3,184.5h6.8v6.8h-6.8zM776.8,181.0h6.8v6.8h-6.8zM778.3,188.7h6.8v6.8h-6.8zM779.8,189.3h6.8v6.8h-6.8zM781.3,189.8h6.8v6.8h-6.8zM782.8,180.1h6.8v6.8h-6.8zM784.3,190.3h6.8v6.8h-6.8zM785.8,178.5h6.8v6.8h-6.8zM787.3,183.7h6.8v6.8h-6.8zM788.8,180.0h6.8v6.8h-6.8zM790.3,180.5h6.8v6.8h-6.8zM791.8,177.0h6.8v6.8h-6.8zM793.3,184.0h6.8v6.8h-6.8zM794.8,178.0h6.8v6.8h-6.8zM796.3,184.5h6.8v6.8h-6.8zM797.8,182.9h6.8v6.8h-6.8zM799.3,178.5h6.8v6.8h-6.8zM800.9,178.1h6.8v6.8h-6.8zM802.5,178.6h6.8v6.8h-6.8zM804.1,172.8h6.8v6.8h-6.8zM805.8,178.5h6.8v6.8h-6.8zM807.5,173.2h6.8v6.8h-6.8zM809.2,174.7h6.8v6.8h-6.8zM811.0,176.9h6.8v6.8h-6.8zM812.8,173.7h6.8v6.8h-6.8zM814.7,170.7h6.8v6.8h-6.8zM816.6,172.9h6.8v6.8h-6.8zM818.6,171.8h6.8v6.8h-6.8zM820.6,167.9h6.8v6.8h-6.8zM822.6,168.6h6.8v6.8h-6.8zM824.7,167.6h6.8v6.8h-6.8zM826.8,167.8h6.8v6.8h-6.8zM829.0,167.4h6.8v6.8h-6.8zM831.2,166.6h6.8v6.8h-6.8zM833.5,165.0h6.8v6.8h-6.8zM835.8,163.9h6.8v6.8h-6.8zM838.2,162.3h6.8v6.8h-6.8zM840.6,160.6h6.8v6.8h-6.8zM843.0,161.7h6.8v6.8h-6.8zM845.4,159.7h6.8v6.8h-6.8zM847.8,158.8h6.8v6.8h-6.8zM850.2,158.2h6.8v6.8h-6.8zM852.6,158.2h6.8v6.8h-6.8zM855.0,155.5h6.8v6.8h-6.8zM857.4,154.8h6.8v6.8h-6.8zM859.8,154.5h6.8v6.8h-6.8zM862.2,152.6h6.8v6.8h-6.8zM864.6,150.9h6.8v6.8h-6.8zM867.0,150.1h6.8v6.8h-6.8zM869.4,147.8h6.8v6.8h-6.8zM871.8,147.3h6.8v6.8h-6.8zM874.2,146.1h6.8v6.8h-6.8zM876.6,144.6h6.8v6.8h-6.8zM879.0,144.7h6.8v6.8h-6.8zM881.4,143.2h6.8v6.8h-6.8zM883.8,142.4h6.8v6.8h-6.8zM886.2,140.8h6.8v6.8h-6.8zM888.6,141.0h6.8v6.8h-6.8zM891.0,139.9h6.8v6.8h-6.8zM893.4,139.2h6.8v6.8h-6.8zM895.8,139.0h6.8v6.8h-6.8zM898.2,137.9h6.8v6.8h-6.8zM900.6,138.7h6.8v6.8h-6.8zM903.0,137.7h6.8v6.8h-6.8zM905.4,137.0h6.8v6.8h-6.8zM907.8,136.8h6.8v6.8h-6.8zM910.2,136.8h6.8v6.8h-6.8zM912.6,135.6h6.8v6.8h-6.8zM915.0,135.4h6.8v6.8h-6.8zM917.4,136.1h6.8v6.8h-6.8zM919.8,136.2h6.8v6.8h-6.8zM922.2,135.0h6.8v6.8h-6.8zM924.6,136.3h6.8v6.8h-6.8zM927.0,136.1h6.8v6.8h-6.8zM929.4,136.3h6.8v6.8h-6.8zM931.8,136.3h6.8v6.8h-6.8zM934.2,136.2h6.8v6.8h-6.8zM936.6,136.8h6.8v6.8h-6.8zM939.0,137.9h6.8v6.8h-6.8zM941.4,139.2h6.8v6.8h-6.8zM943.8,139.2h6.8v6.8h-6.8zM946.2,139.3h6.8v6.8h-6.8zM948.6,140.7h6.8v6.8h-6.8zM951.0,142.0h6.8v6.8h-6.8zM953.4,143.7h6.8v6.8h-6.8zM955.8,145.0h6.8v6.8h-6.8zM958.2,145.9h6.8v6.8h-6.8zM960.6,147.1h6.8v6.8h-6.8zM963.0,148.7h6.8v6.8h-6.8zM965.4,150.8h6.8v6.8h-6.8zM967.8,153.1h6.8v6.8h-6.8zM970.2,153.1h6.8v6.8h-6.8zM972.6,154.8h6.8v6.8h-6.8zM975.0,157.3h6.8v6.8h-6.8zM977.4,160.9h6.8v6.8h-6.8zM979.8,160.9h6.8v6.8h-6.8zM982.2,163.9h6.8v6.8h-6.8zM984.6,165.2h6.8v6.8h-6.8zM987.0,167.6h6.8v6.8h-6.8zM989.4,171.1h6.8v6.8h-6.8zM991.8,172.5h6.8v6.8h-6.8zM994.2,175.1h6.8v6.8h-6.8zM996.6,177.8h6.8v6.8h-6.8zM999.0,180.3h6.8v6.8h-6.8zM1001.4,183.7h6.8v6.8h-6.8zM1003.8,187.9h6.8v6.8h-6.8zM1006.2,189.5h6.8v6.8h-6.8zM1008.6,194.2h6.8v6.8h-6.8zM1011.0,197.0h6.8v6.8h-6.8zM1013.4,198.4h6.8v6.8h-6.8zM1015.8,202.0h6.8v6.8h-6.8zM1018.2,205.6h6.8v6.8h-6.8zM1020.6,209.5h6.8v6.8h-6.8zM1023.0,211.8h6.8v6.8h-6.8zM1025.4,216.1h6.8v6.8h-6.8zM1027.8,218.2h6.8v6.8h-6.8zM1030.2,222.2h6.8v6.8h-6.8zM1032.6,224.3h6.8v6.8h-6.8zM1035.0,226.4h6.8v6.8h-6.8zM1037.4,228.3h6.8v6.8h-6.8z" fill="#00a000" stroke="#007c00" stroke-width="0.5"/>
<path d="M606.2,159.2V173.3M607.7,151.7V163.8M609.2,149.8V160.6M610.7,164.8V177.0M612.2,156.9V162.7M613.7,158.6V168.5M615.2,152.7V166.2M616.7,141.1V155.8M618.2,171.9V177.3M619.7,162.7V178.1M621.2,158.3V240.4M622.7,160.7V177.3M624.2,156.3V169.0M625.7,149.4V161.4M627.2,165.9V173.4M628.7,152.6V171.3M630.2,159.5V167.1M631.7,160.8V170.8M633.2,174.1V179.6M634.7,164.2V171.7M636.2,147.0V161.7M637.7,150.6V165.7M639.2,152.6V173.3M640.7,144.6V155.7M642.2,157.5V164.5M643.7,152.0V163.1M645.2,156.2V164.9M646.7,163.0V171.4M648.2,168.4V179.8M649.7,169.1V176.6M651.2,154.7V232.4M652.7,152.6V159.9M654.2,169.6V189.3M655.7,155.5V161.0M657.2,176.5V182.8M658.7,165.3V173.7M660.2,165.3V177.6M661.7,157.8V167.1M663.2,174.1V182.4M664.7,158.8V212.4M666.2,161.2V172.2M667.7,168.2V177.3M669.2,176.4V187.6M670.7,168.8V179.4M672.2,154.2V164.0M673.7,160.1V166.9M675.2,158.2V166.5M676.7,173.0V187.0M678.2,171.0V178.1M679.7,174.7V194.5M681.2,180.3V188.4M682.7,177.5V189.4M684.2,163.7V213.3M685.7,173.8V233.2M687.2,167.1V177.1M688.7,176.9V192.8M690.2,181.3V194.0M691.7,175.0V183.6M693.2,177.7V190.4M694.7,191.8V199.0M696.2,180.7V189.2M697.7,173.9V183.2M699.2,167.9V178.4M700.7,179.8V187.5M702.2,184.7V191.2M703.7,187.9V198.0M705.2,190.6V197.4M706.7,185.7V197.3M708.2,171.1V179.6M709.7,190.0V198.9M711.2,194.2V201.6M712.7,177.3V185.3M714.2,182.8V192.2M715.7,179.6V190.8M717.2,181.1V193.0M718.7,187.3V200.1M720.2,189.3V196.3M721.7,190.7V204.2M723.2,190.6V195.9M724.7,197.8V211.4M726.2,191.6V201.2M727.7,185.1V193.2M729.2,190.2V197.0M730.7,189.3V246.9M732.2,193.8V202.1M733.7,195.4V203.3M735.2,190.9V196.3M736.7,191.9V201.0M738.2,198.0V204.0M739.7,204.5V214.2M741.2,192.2V203.9M742.7,201.8V209.2M744.2,195.9V208.7M745.7,202.6V209.4M747.2,203.3V211.4M748.7,205.5V215.2M750.2,208.6V215.3M751.7,207.1V216.5M753.2,203.9V214.9M754.7,207.2V215.5M756.2,206.9V214.2M757.7,210.6V220.1M759.2,207.5V213.7M760.7,206.0V217.9M762.2,208.6V221.9M763.7,214.1V221.9M765.2,212.0V218.7M766.7,207.2V224.1M768.2,211.4V222.6M769.7,212.7V220.4M771.2,210.2V218.2M772.7,212.4V219.9M774.2,214.3V227.7M775.7,214.7V220.5M777.2,206.9V274.6M778.7,206.7V213.6M780.2,210.6V219.1M781.7,210.7V219.8M783.2,217.0V226.4M784.7,209.6V219.7M786.2,214.8V222.0M787.7,210.0V218.6M789.2,208.9V216.2M790.7,207.9V220.8M792.2,207.6V222.7M793.7,208.5V214.9M795.2,210.1V218.9" stroke="#ffb4b4" stroke-width="1" fill="none"/>
<path d="M602.2,158.4h8.0v1.6h-8.0zM602.2,172.5h8.0v1.6h-8.0zM603.7,150.9h8.0v1.6h-8.0zM603.7,163.0h8.0v1.6h-8.0zM605.2,149.0h8.0v1.6h-8.0zM605.2,159.8h8.0v1.6h-8.0zM606.7,164.0h8.0v1.6h-8.0zM606.7,176.2h8.0v1.6h-8.0zM608.2,156.1h8.0v1.6h-8.0zM608.2,161.9h8.0v1.6h-8.0zM609.7,157.8h8.0v1.6h-8.0zM609.7,167.7h8.0v1.6h-8.0zM611.2,151.9h8.0v1.6h-8.0zM611.2,165.4h8.0v1.6h-8.0zM612.7,140.3h8.0v1.6h-8.0zM612.7,155.0h8.0v1.6h-8.0zM614.2,171.1h8.0v1.6h-8.0zM614.2,176.5h8.0v1.6h-8.0zM615.7,161.9h8.0v1.6h-8.0zM615.7,177.3h8.0v1.6h-8.0zM617.2,157.5h8.0v1.6h-8.0zM617.2,239.6h8.0v1.6h-8.0zM618.7,159.9h8.0v1.6h-8.0zM618.7,176.5h8.0v1.6h-8.0zM620.2,155.5h8.0v1.6h-8.0zM620.2,168.2h8.0v1.6h-8.0zM621.7,148.6h8.0v1.6h-8.0zM621.7,160.6h8.0v1.6h-8.0zM623.2,165.1h8.0v1.6h-8.0zM623.2,172.6h8.0v1.6h-8.0zM624.7,151.8h8.0v1.6h-8.0zM624.7,170.5h8.0v1.6h-8.0zM626.2,158.7h8.0v1.6h-8.0zM626.2,166.3h8.0v1.6h-8.0zM627.7,160.0h8.0v1.6h-8.0zM627.7,170.0h8.0v1.6h-8.0zM629.2,173.3h8.0v1.6h-8.0zM629.2,178.8h8.0v1.6h-8.0zM630.7,163.4h8.0v1.6h-8.0zM630.7,170.9h8.0v1.6h-8.0zM632.2,146.2h8.0v1.6h-8.0zM632.2,160.9h8.0v1.6h-8.0zM633.7,149.8h8.0v1.6h-8.0zM633.7,164.9h8.0v1.6h-8.0zM635.2,151.8h8.0v1.6h-8.0zM635.2,172.5h8.0v1.6h-8.0zM636.7,143.8h8.0v1.6h-8.0zM636.7,154.9h8.0v1.6h-8.0zM638.2,156.7h8.0v1.6h-8.0zM638.2,163.7h8.0v1.6h-8.0zM639.7,151.2h8.0v1.6h-8.0zM639.7,162.3h8.0v1.6h-8.0zM641.2,155.4h8.0v1.6h-8.0zM641.2,164.1h8.0v1.6h-8.0zM642.7,162.2h8.0v1.6h-8.0zM642.7,170.6h8.0v1.6h-8.0zM644.2,167.6h8.0v1.6h-8.0zM644.2,179.0h8.0v1.6h-8.0zM645.7,168.3h8.0v1.6h-8.0zM645.7,175.8h8.0v1.6h-8.0zM647.2,153.9h8.0v1.6h-8.0zM647.2,231.6h8.0v1.6h-8.0zM648.7,151.8h8.0v1.6h-8.0zM648.7,159.1h8.0v1.6h-8.0zM650.2,168.8h8.0v1.6h-8.0zM650.2,188.5h8.0v1.6h-8.0zM651.7,154.7h8.0v1.6h-8.0zM651.7,160.2h8.0v1.6h-8.0zM653.2,175.7h8.0v1.6h-8.0zM653.2,182.0h8.0v1.6h-8.0zM654.7,164.5h8.0v1.6h-8.0zM654.7,172.9h8.0v1.6h-8.0zM656.2,164.5h8.0v1.6h-8.0zM656.2,176.8h8.0v1.6h-8.0zM657.7,157.0h8.0v1.6h-8.0zM657.7,166.3h8.0v1.6h-8.0zM659.2,173.3h8.0v1.6h-8.0zM659.2,181.6h8.0v1.6h-8.0zM660.7,158.0h8.0v1.6h-8.0zM660.7,211.6h8.0v1.6h-8.0zM662.2,160.4h8.0v1.6h-8.0zM662.2,171.4h8.0v1.6h-8.0zM663.7,167.4h8.0v1.6h-8.0zM663.7,176.5h8.0v1.6h-8.0zM665.2,175.6h8.0v1.6h-8.0zM665.2,186.8h8.0v1.6h-8.0zM666.7,168.0h8.0v1.6h-8.0zM666.7,178.6h8.0v1.6h-8.0zM668.2,153.4h8.0v1.6h-8.0zM668.2,163.2h8.0v1.6h-8.0zM669.7,159.3h8.0v1.6h-8.0zM669.7,166.1h8.0v1.6h-8.0zM671.2,157.4h8.0v1.6h-8.0zM671.2,165.7h8.0v1.6h-8.0zM672.7,172.2h8.0v1.6h-8.0zM672.7,186.2h8.0v1.6h-8.0zM674.2,170.2h8.0v1.6h-8.0zM674.2,177.3h8.0v1.6h-8.0zM675.7,173.9h8.0v1.6h-8.0zM675.7,193.7h8.0v1.6h-8.0zM677.2,179.5h8.0v1.6h-8.0zM677.2,187.6h8.0v1.6h-8.0zM678.7,176.7h8.0v1.6h-8.0zM678.7,188.6h8.0v1.6h-8.0zM680.2,162.9h8.0v1.6h-8.0zM680.2,212.5h8.0v1.6h-8.0zM681.7,173.0h8.0v1.6h-8.0zM681.7,232.4h8.0v1.6h-8.0zM683.2,166.3h8.0v1.6h-8.0zM683.2,176.3h8.0v1.6h-8.0zM684.7,176.1h8.0v1.6h-8.0zM684.7,192.0h8.0v1.6h-8.0zM686.2,180.5h8.0v1.6h-8.0zM686.2,193.2h8.0v1.6h-8.0zM687.7,174.2h8.0v1.6h-8.0zM687.7,182.8h8.0v1.6h-8.0zM689.2,176.9h8.0v1.6h-8.0zM689.2,189.6h8.0v1.6h-8.0zM690.7,191.0h8.0v1.6h-8.0zM690.7,198.2h8.0v1.6h-8.0zM692.2,179.9h8.0v1.6h-8.0zM692.2,188.4h8.0v1.6h-8.0zM693.7,173.1h8.0v1.6h-8.0zM693.7,182.4h8.0v1.6h-8.0zM695.2,167.1h8.0v1.6h-8.0zM695.2,177.6h8.0v1.6h-8.0zM696.7,179.0h8.0v1.6h-8.0zM696.7,186.7h8.0v1.6h-8.0zM698.2,183.9h8.0v1.6h-8.0zM698.2,190.4h8.0v1.6h-8.0zM699.7,187.1h8.0v1.6h-8.0zM699.7,197.2h8.0v1.6h-8.0zM701.2,189.8h8.0v1.6h-8.0zM701.2,196.6h8.0v1.6h-8.0zM702.7,184.9h8.0v1.6h-8.0zM702.7,196.5h8.0v1.6h-8.0zM704.2,170.3h8.0v1.6h-8.0zM704.2,178.8h8.0v1.6h-8.0zM705.7,189.2h8.0v1.6h-8.0zM705.7,198.1h8.0v1.6h-8.0zM707.2,193.4h8.0v1.6h-8.0zM707.2,200.8h8.0v1.6h-8.0zM708.7,176.5h8.0v1.6h-8.0zM708.7,184.5h8.0v1.6h-8.0zM710.2,182.0h8.0v1.6h-8.0zM710.2,191.4h8.0v1.6h-8.0zM711.7,178.8h8.0v1.6h-8.0zM711.7,190.0h8.0v1.6h-8.0zM713.2,180.3h8.0v1.6h-8.0zM713.2,192.2h8.0v1.6h-8.0zM714.7,186.5h8.0v1.6h-8.0zM714.7,199.3h8.0v1.6h-8.0zM716.2,188.5h8.0v1.6h-8.0zM716.2,195.5h8.0v1.6h-8.0zM717.7,189.9h8.0v1.6h-8.0zM717.7,203.4h8.0v1.6h-8.0zM719.2,189.8h8.0v1.6h-8.0zM719.2,195.1h8.0v1.6h-8.0zM720.7,197.0h8.0v1.6h-8.0zM720.7,210.6h8.0v1.6h-8.0zM722.2,190.8h8.0v1.6h-8.0zM722.2,200.4h8.0v1.6h-8.0zM723.7,184.3h8.0v1.6h-8.0zM723.7,192.4h8.0v1.6h-8.0zM725.2,189.4h8.0v1.6h-8.0zM725.2,196.2h8.0v1.6h-8.0zM726.7,188.5h8.0v1.6h-8.0zM726.7,246.1h8.0v1.6h-8.0zM728.2,193.0h8.0v1.6h-8.0zM728.2,201.3h8.0v1.6h-8.0zM729.7,194.6h8.0v1.6h-8.0zM729.7,202.5h8.0v1.6h-8.0zM731.2,190.1h8.0v1.6h-8.0zM731.2,195.5h8.0v1.6h-8.0zM732.7,191.1h8.0v1.6h-8.0zM732.7,200.2h8.0v1.6h-8.0zM734.2,197.2h8.0v1.6h-8.0zM734.2,203.2h8.0v1.6h-8.0zM735.7,203.7h8.0v1.6h-8.0zM735.7,213.4h8.0v1.6h-8.0zM737.2,191.4h8.0v1.6h-8.0zM737.2,203.1h8.0v1.6h-8.0zM738.7,201.0h8.0v1.6h-8.0zM738.7,208.4h8.0v1.6h-8.0zM740.2,195.1h8.0v1.6h-8.0zM740.2,207.9h8.0v1.6h-8.0zM741.7,201.8h8.0v1.6h-8.0zM741.7,208.6h8.0v1.6h-8.0zM743.2,202.5h8.0v1.6h-8.0zM743.2,210.6h8.0v1.6h-8.0zM744.7,204.7h8.0v1.6h-8.0zM744.7,214.4h8.0v1.6h-8.0zM746.2,207.8h8.0v1.6h-8.0zM746.2,214.5h8.0v1.6h-8.0zM747.7,206.3h8.0v1.6h-8.0zM747.7,215.7h8.0v1.6h-8.0zM749.2,203.1h8.0v1.6h-8.0zM749.2,214.1h8.0v1.6h-8.0zM750.7,206.4h8.0v1.6h-8.0zM750.7,214.7h8.0v1.6h-8.0zM752.2,206.1h8.0v1.6h-8.0zM752.2,213.4h8.0v1.6h-8.0zM753.7,209.8h8.0v1.6h-8.0zM753.7,219.3h8.0v1.6h-8.0zM755.2,206.7h8.0v1.6h-8.0zM755.2,212.9h8.0v1.6h-8.0zM756.7,205.2h8.0v1.6h-8.0zM756.7,217.1h8.0v1.6h-8.0zM758.2,207.8h8.0v1.6h-8.0zM758.2,221.1h8.0v1.6h-8.0zM759.7,213.3h8.0v1.6h-8.0zM759.7,221.1h8.0v1.6h-8.0zM761.2,211.2h8.0v1.6h-8.0zM761.2,217.9h8.0v1.6h-8.0zM762.7,206.4h8.0v1.6h-8.0zM762.7,223.3h8.0v1.6h-8.0zM764.2,210.6h8.0v1.6h-8.0zM764.2,221.8h8.0v1.6h-8.0zM765.7,211.9h8.0v1.6h-8.0zM765.7,219.6h8.0v1.6h-8.0zM767.2,209.4h8.0v1.6h-8.0zM767.2,217.4h8.0v1.6h-8.0zM768.7,211.6h8.0v1.6h-8.0zM768.7,219.1h8.0v1.6h-8.0zM770.2,213.5h8.0v1.6h-8.0zM770.2,226.9h8.0v1.6h-8.0zM771.7,213.9h8.0v1.6h-8.0zM771.7,219.7h8.0v1.6h-8.0zM773.2,206.1h8.0v1.6h-8.0zM773.2,273.8h8.0v1.6h-8.0zM774.7,205.9h8.0v1.6h-8.0zM774.7,212.8h8.0v1.6h-8.0zM776.2,209.8h8.0v1.6h-8.0zM776.2,218.3h8.0v1.6h-8.0zM777.7,209.9h8.0v1.6h-8.0zM777.7,219.0h8.0v1.6h-8.0zM779.2,216.2h8.0v1.6h-8.0zM779.2,225.6h8.0v1.6h-8.0zM780.7,208.8h8.0v1.6h-8.0zM780.7,218.9h8.0v1.6h-8.0zM782.2,214.0h8.0v1.6h-8.0zM782.2,221.2h8.0v1.6h-8.0zM783.7,209.2h8.0v1.6h-8.0zM783.7,217.8h8.0v1.6h-8.0zM785.2,208.1h8.0v1.6h-8.0zM785.2,215.4h8.0v1.6h-8.0zM786.7,207.1h8.0v1.6h-8.0zM786.7,220.0h8.0v1.6h-8.0zM788.2,206.8h8.0v1.6h-8.0zM788.2,221.9h8.0v1.6h-8.0zM789.7,207.7h8.0v1.6h-8.0zM789.7,214.1h8.0v1.6h-8.0zM791.2,209.3h8.0v1.6h-8.0zM791.2,218.1h8.0v1.6h-8.0z" fill="#ff0000"/>
<path d="M602.8,162.0h6.8v6.8h-6.8zM604.3,153.6h6.8v6.8h-6.8zM605.8,151.1h6.8v6.8h-6.8zM607.3,166.7h6.8v6.8h-6.8zM608.8,156.0h6.8v6.8h-6.8zM610.3,159.5h6.8v6.8h-6.8zM611.8,155.2h6.8v6.8h-6.8zM613.3,144.1h6.8v6.8h-6.8zM614.8,170.9h6.8v6.8h-6.8zM616.3,166.0h6.8v6.8h-6.8zM617.8,159.7h6.8v6.8h-6.8zM619.3,164.5h6.8v6.8h-6.8zM620.8,158.4h6.8v6.8h-6.8zM622.3,151.3h6.8v6.8h-6.8zM623.8,165.8h6.8v6.8h-6.8zM625.3,157.3h6.8v6.8h-6.8zM626.8,159.4h6.8v6.8h-6.8zM628.3,161.7h6.8v6.8h-6.8zM629.8,173.1h6.8v6.8h-6.8zM631.3,164.1h6.8v6.8h-6.8zM632.8,150.0h6.8v6.8h-6.8zM634.3,153.8h6.8v6.8h-6.8zM635.8,158.2h6.8v6.8h-6.8zM637.3,146.0h6.8v6.8h-6.8zM638.8,157.1h6.8v6.8h-6.8zM640.3,153.5h6.8v6.8h-6.8zM641.8,156.5h6.8v6.8h-6.8zM643.3,163.2h6.8v6.8h-6.8zM644.8,169.9h6.8v6.8h-6.8zM646.3,169.0h6.8v6.8h-6.8zM647.8,156.8h6.8v6.8h-6.8zM649.3,152.4h6.8v6.8h-6.8zM650.8,174.7h6.8v6.8h-6.8zM652.3,154.5h6.8v6.8h-6.8zM653.8,175.8h6.8v6.8h-6.8zM655.3,165.6h6.8v6.8h-6.8zM656.8,167.2h6.8v6.8h-6.8zM658.3,158.4h6.8v6.8h-6.8zM659.8,174.3h6.8v6.8h-6.8zM661.3,160.5h6.8v6.8h-6.8zM662.8,162.6h6.8v6.8h-6.8zM664.3,168.7h6.8v6.8h-6.8zM665.8,177.9h6.8v6.8h-6.8zM667.3,170.0h6.8v6.8h-6.8zM668.8,155.0h6.8v6.8h-6.8zM670.3,159.7h6.8v6.8h-6.8zM671.8,158.4h6.8v6.8h-6.8zM673.3,175.7h6.8v6.8h-6.8zM674.8,170.7h6.8v6.8h-6.8zM676.3,179.9h6.8v6.8h-6.8zM677.8,180.4h6.8v6.8h-6.8zM679.3,179.2h6.8v6.8h-6.8zM680.8,167.8h6.8v6.8h-6.8zM682.3,174.4h6.8v6.8h-6.8zM683.8,168.1h6.8v6.8h-6.8zM685.3,180.4h6.8v6.8h-6.8zM686.8,183.4h6.8v6.8h-6.8zM688.3,175.4h6.8v6.8h-6.8zM689.8,179.8h6.8v6.8h-6.8zM691.3,191.5h6.8v6.8h-6.8zM692.8,181.0h6.8v6.8h-6.8zM694.3,174.6h6.8v6.8h-6.8zM695.8,169.1h6.8v6.8h-6.8zM697.3,179.8h6.8v6.8h-6.8zM698.8,184.1h6.8v6.8h-6.8zM700.3,188.9h6.8v6.8h-6.8zM701.8,190.1h6.8v6.8h-6.8zM703.3,187.3h6.8v6.8h-6.8zM704.8,171.4h6.8v6.8h-6.8zM706.3,190.5h6.8v6.8h-6.8zM707.8,194.0h6.8v6.8h-6.8zM709.3,177.4h6.8v6.8h-6.8zM710.8,183.5h6.8v6.8h-6.8zM712.3,181.1h6.8v6.8h-6.8zM713.8,182.9h6.8v6.8h-6.8zM715.3,189.5h6.8v6.8h-6.8zM716.8,188.9h6.8v6.8h-6.8zM718.3,193.1h6.8v6.8h-6.8zM719.8,189.5h6.8v6.8h-6.8zM721.3,200.3h6.8v6.8h-6.8zM722.8,192.4h6.8v6.8h-6.8zM724.3,185.2h6.8v6.8h-6.8zM725.8,189.7h6.8v6.8h-6.8zM727.3,192.0h6.8v6.8h-6.8zM728.8,194.0h6.8v6.8h-6.8zM730.3,195.4h6.8v6.8h-6.8zM731.8,189.8h6.8v6.8h-6.8zM733.3,192.5h6.8v6.8h-6.8zM734.8,197.2h6.8v6.8h-6.8zM736.3,205.3h6.8v6.8h-6.8zM737.8,193.9h6.8v6.8h-6.8zM739.3,201.6h6.8v6.8h-6.8zM740.8,198.1h6.8v6.8h-6.8zM742.3,202.2h6.8v6.8h-6.8zM743.8,203.4h6.8v6.8h-6.8zM745.3,206.3h6.8v6.8h-6.8zM746.8,208.1h6.8v6.8h-6.8zM748.3,207.8h6.8v6.8h-6.8zM749.8,205.3h6.8v6.8h-6.8zM751.3,207.4h6.8v6.8h-6.8zM752.8,206.7h6.8v6.8h-6.8zM754.3,211.3h6.8v6.8h-6.8zM755.8,206.8h6.8v6.8h-6.8zM757.3,207.8h6.8v6.8h-6.8zM758.8,211.0h6.8v6.8h-6.8zM760.3,214.1h6.8v6.8h-6.8zM761.8,211.5h6.8v6.8h-6.8zM763.3,211.1h6.8v6.8h-6.8zM764.8,212.9h6.8v6.8h-6.8zM766.3,212.6h6.8v6.8h-6.8zM767.8,210.3h6.8v6.8h-6.8zM769.3,212.3h6.8v6.8h-6.8zM770.8,216.7h6.8v6.8h-6.8zM772.3,213.8h6.8v6.8h-6.8zM773.8,208.2h6.8v6.8h-6.8zM775.3,206.3h6.8v6.8h-6.8zM776.8,210.9h6.8v6.8h-6.8zM778.3,211.3h6.8v6.8h-6.8zM779.8,217.7h6.8v6.8h-6.8zM781.3,210.6h6.8v6.8h-6.8zM782.8,214.5h6.8v6.8h-6.8zM784.3,210.3h6.8v6.8h-6.8zM785.8,208.7h6.8v6.8h-6.8zM787.3,210.1h6.8v6.8h-6.8zM788.8,210.8h6.8v6.8h-6.8zM790.3,207.9h6.8v6.8h-6.8zM791.8,210.6h6.8v6.8h-6.8zM793.3,209.2h6.8v6.8h-6.8zM794.8,205.5h6.8v6.8h-6.8zM796.3,204.2h6.8v6.8h-6.8zM797.8,204.4h6.8v6.8h-6.8zM799.3,204.2h6.8v6.8h-6.8zM800.9,202.2h6.8v6.8h-6.8zM802.5,206.6h6.8v6.8h-6.8zM804.1,202.8h6.8v6.8h-6.8zM805.8,204.6h6.8v6.8h-6.8zM807.5,202.7h6.8v6.8h-6.8zM809.2,200.0h6.8v6.8h-6.8zM811.0,200.8h6.8v6.8h-6.8zM812.8,203.4h6.8v6.8h-6.8zM814.7,200.2h6.8v6.8h-6.8zM816.6,201.9h6.8v6.8h-6.8zM818.6,201.6h6.8v6.8h-6.8zM820.6,198.4h6.8v6.8h-6.8zM822.6,198.8h6.8v6.8h-6.8zM824.7,199.0h6.8v6.8h-6.8zM826.8,192.1h6.8v6.8h-6.8zM829.0,198.0h6.8v6.8h-6.8zM831.2,193.5h6.8v6.8h-6.8zM833.5,193.6h6.8v6.8h-6.8zM835.8,195.5h6.8v6.8h-6.8zM838.2,194.3h6.8v6.8h-6.8zM840.6,193.1h6.8v6.8h-6.8zM843.0,189.4h6.8v6.8h-6.8zM845.4,190.8h6.8v6.8h-6.8zM847.8,191.4h6.8v6.8h-6.8zM850.2,189.2h6.8v6.8h-6.8zM852.6,189.0h6.8v6.8h-6.8zM855.0,188.3h6.8v6.8h-6.8zM857.4,186.4h6.8v6.8h-6.8zM859.8,185.2h6.8v6.8h-6.8zM862.2,184.1h6.8v6.8h-6.8zM864.6,183.1h6.8v6.8h-6.8zM867.0,182.9h6.8v6.8h-6.8zM869.4,180.8h6.8v6.8h-6.8zM871.8,180.1h6.8v6.8h-6.8zM874.2,178.4h6.8v6.8h-6.8zM876.6,177.2h6.8v6.8h-6.8zM879.0,176.3h6.8v6.8h-6.8zM881.4,173.0h6.8v6.8h-6.8zM883.8,173.2h6.8v6.8h-6.8zM886.2,171.6h6.8v6.8h-6.8zM888.6,170.4h6.8v6.8h-6.8zM891.0,169.0h6.8v6.8h-6.8zM893.4,168.0h6.8v6.8h-6.8zM895.8,167.6h6.8v6.8h-6.8zM898.2,168.9h6.8v6.8h-6.8zM900.6,168.0h6.8v6.8h-6.8zM903.0,168.8h6.8v6.8h-6.8zM905.4,168.4h6.8v6.8h-6.8zM907.8,168.6h6.8v6.8h-6.8zM910.2,169.3h6.8v6.8h-6.8zM912.6,169.3h6.8v6.8h-6.8zM915.0,169.8h6.8v6.8h-6.8zM917.4,169.1h6.8v6.8h-6.8zM919.8,169.6h6.8v6.8h-6.8zM922.2,169.9h6.8v6.8h-6.8zM924.6,170.0h6.8v6.8h-6.8zM927.0,170.4h6.8v6.8h-6.8zM929.4,170.8h6.8v6.8h-6.8zM931.8,170.7h6.8v6.8h-6.8zM934.2,171.2h6.8v6.8h-6.8zM936.6,171.8h6.8v6.8h-6.8zM939.0,172.5h6.8v6.8h-6.8zM941.4,172.6h6.8v6.8h-6.8zM943.8,173.6h6.8v6.8h-6.8zM946.2,175.4h6.8v6.8h-6.8zM948.6,175.9h6.8v6.8h-6.8zM951.0,176.0h6.8v6.8h-6.8zM953.4,177.6h6.8v6.8h-6.8zM955.8,178.4h6.8v6.8h-6.8zM958.2,180.6h6.8v6.8h-6.8zM960.6,181.8h6.8v6.8h-6.8zM963.0,183.9h6.8v6.8h-6.8zM965.4,185.5h6.8v6.8h-6.8zM967.8,187.4h6.8v6.8h-6.8zM970.2,189.1h6.8v6.8h-6.8zM972.6,191.3h6.8v6.8h-6.8zM975.0,191.7h6.8v6.8h-6.8zM977.4,195.5h6.8v6.8h-6.8zM979.8,194.3h6.8v6.8h-6.8zM982.2,198.3h6.8v6.8h-6.8zM984.6,201.8h6.8v6.8h-6.8zM987.0,203.3h6.8v6.8h-6.8zM989.4,206.0h6.8v6.8h-6.8zM991.8,211.2h6.8v6.8h-6.8zM994.2,212.3h6.8v6.8h-6.8zM996.6,215.1h6.8v6.8h-6.8zM999.0,218.6h6.8v6.8h-6.8zM1001.4,221.1h6.8v6.8h-6.8zM1003.8,223.0h6.8v6.8h-6.8zM1006.2,226.6h6.8v6.8h-6.8zM1008.6,229.9h6.8v6.8h-6.8zM1011.0,234.1h6.8v6.8h-6.8zM1013.4,235.9h6.8v6.8h-6.8zM1015.8,239.6h6.8v6.8h-6.8zM1018.2,240.5h6.8v6.8h-6.8zM1020.6,244.7h6.8v6.8h-6.8zM1023.0,247.2h6.8v6.8h-6.8zM1025.4,248.7h6.8v6.8h-6.8zM1027.8,252.8h6.8v6.8h-6.8zM1030.2,255.2h6.8v6.8h-6.8zM1032.6,259.0h6.8v6.8h-6.8zM1035.0,261.4h6.8v6.8h-6.8zM1037.4,265.5h6.8v6.8h-6.8z" fill="#ff0000" stroke="#d00000" stroke-width="0.5"/>
</g>
<rect x="76.60" y="29.90" width="426.90" height="340.80" fill="none" stroke="#a4a4a4" stroke-width="1.5"/>
<path d="M97.93,370.70v-2.0M97.93,29.90v2.0M110.47,370.70v-2.0M110.47,29.90v2.0M119.37,370.70v-2.0M119.37,29.90v2.0M126.27,370.70v-2.0M126.27,29.90v2.0M131.90,370.70v-2.0M131.90,29.90v2.0M136.67,370.70v-2.0M136.67,29.90v2.0M140.80,370.70v-2.0M140.80,29.90v2.0M144.44,370.70v-2.0M144.44,29.90v2.0M147.70,370.70v-4.0M147.70,29.90v4.0M169.13,370.70v-2.0M169.13,29.90v2.0M181.67,370.70v-2.0M181.67,29.90v2.0M190.57,370.70v-2.0M190.57,29.90v2.0M197.47,370.70v-2.0M197.47,29.90v2.0M203.10,370.70v-2.0M203.10,29.90v2.0M207.87,370.70v-2.0M207.87,29.90v2.0M212.00,370.70v-2.0M212.00,29.90v2.0M215.64,370.70v-2.0M215.64,29.90v2.0M218.90,370.70v-4.0M218.90,29.90v4.0M240.33,370.70v-2.0M240.33,29.90v2.0M252.87,370.70v-2.0M252.87,29.90v2.0M261.77,370.70v-2.0M261.77,29.90v2.0M268.67,370.70v-2.0M268.67,29.90v2.0M274.30,370.70v-2.0M274.30,29.90v2.0M279.07,370.70v-2.0M279.07,29.90v2.0M283.20,370.70v-2.0M283.20,29.90v2.0M286.84,370.70v-2.0M286.84,29.90v2.0M290.10,370.70v-4.0M290.10,29.90v4.0M311.53,370.70v-2.0M311.53,29.90v2.0M324.07,370.70v-2.0M324.07,29.90v2.0M332.97,370.70v-2.0M332.97,29.90v2.0M339.87,370.70v-2.0M339.87,29.90v2.0M345.50,370.70v-2.0M345.50,29.90v2.0M350.27,370.70v-2.0M350.27,29.90v2.0M354.40,370.70v-2.0M354.40,29.90v2.0M358.04,370.70v-2.0M358.04,29.90v2.0M361.30,370.70v-4.0M361.30,29.90v4.0M382.73,370.70v-2.0M382.73,29.90v2.0M395.27,370.70v-2.0M395.27,29.90v2.0M404.17,370.70v-2.0M404.17,29.90v2.0M411.07,370.70v-2.0M411.07,29.90v2.0M416.70,370.70v-2.0M416.70,29.90v2.0M421.47,370.70v-2.0M421.47,29.90v2.0M425.60,370.70v-2.0M425.60,29.90v2.0M429.24,370.70v-2.0M429.24,29.90v2.0M432.50,370.70v-4.0M432.50,29.90v4.0M453.93,370.70v-2.0M453.93,29.90v2.0M466.47,370.70v-2.0M466.47,29.90v2.0M475.37,370.70v-2.0M475.37,29.90v2.0M482.27,370.70v-2.0M482.27,29.90v2.0M487.90,370.70v-2.0M487.90,29.90v2.0M492.67,370.70v-2.0M492.67,29.90v2.0M496.80,370.70v-2.0M496.80,29.90v2.0M500.44,370.70v-2.0M500.44,29.90v2.0M76.60,327.74h4.0M503.50,327.74h-4.0M76.60,285.18h2.0M503.50,285.18h-2.0M76.60,242.61h4.0M503.50,242.61h-4.0M76.60,200.05h2.0M503.50,200.05h-2.0M76.60,157.49h4.0M503.50,157.49h-4.0M76.60,114.92h2.0M503.50,114.92h-2.0M76.60,72.36h4.0M503.50,72.36h-4.0" stroke="#606060" stroke-width="0.9" fill="none"/>
<rect x="606.20" y="38.50" width="430.30" height="342.90" fill="none" stroke="#a4a4a4" stroke-width="1.5"/>
<path d="M627.79,381.40v-2.0M627.79,38.50v2.0M640.42,381.40v-2.0M640.42,38.50v2.0M649.38,381.40v-2.0M649.38,38.50v2.0M656.33,381.40v-2.0M656.33,38.50v2.0M662.01,381.40v-2.0M662.01,38.50v2.0M666.81,381.40v-2.0M666.81,38.50v2.0M670.97,381.40v-2.0M670.97,38.50v2.0M674.64,381.40v-2.0M674.64,38.50v2.0M677.92,381.40v-4.0M677.92,38.50v4.0M699.51,381.40v-2.0M699.51,38.50v2.0M712.13,381.40v-2.0M712.13,38.50v2.0M721.09,381.40v-2.0M721.09,38.50v2.0M728.04,381.40v-2.0M728.04,38.50v2.0M733.72,381.40v-2.0M733.72,38.50v2.0M738.52,381.40v-2.0M738.52,38.50v2.0M742.68,381.40v-2.0M742.68,38.50v2.0M746.35,381.40v-2.0M746.35,38.50v2.0M749.63,381.40v-4.0M749.63,38.50v4.0M771.22,381.40v-2.0M771.22,38.50v2.0M783.85,381.40v-2.0M783.85,38.50v2.0M792.81,381.40v-2.0M792.81,38.50v2.0M799.76,381.40v-2.0M799.76,38.50v2.0M805.44,381.40v-2.0M805.44,38.50v2.0M810.24,381.40v-2.0M810.24,38.50v2.0M814.40,381.40v-2.0M814.40,38.50v2.0M818.07,381.40v-2.0M818.07,38.50v2.0M821.35,381.40v-4.0M821.35,38.50v4.0M842.94,381.40v-2.0M842.94,38.50v2.0M855.57,381.40v-2.0M855.57,38.50v2.0M864.53,381.40v-2.0M864.53,38.50v2.0M871.48,381.40v-2.0M871.48,38.50v2.0M877.16,381.40v-2.0M877.16,38.50v2.0M881.96,381.40v-2.0M881.96,38.50v2.0M886.12,381.40v-2.0M886.12,38.50v2.0M889.79,381.40v-2.0M889.79,38.50v2.0M893.07,381.40v-4.0M893.07,38.50v4.0M914.66,381.40v-2.0M914.66,38.50v2.0M927.28,381.40v-2.0M927.28,38.50v2.0M936.24,381.40v-2.0M936.24,38.50v2.0M943.19,381.40v-2.0M943.19,38.50v2.0M948.87,381.40v-2.0M948.87,38.50v2.0M953.67,381.40v-2.0M953.67,38.50v2.0M957.83,381.40v-2.0M957.83,38.50v2.0M961.50,381.40v-2.0M961.50,38.50v2.0M964.78,381.40v-4.0M964.78,38.50v4.0M986.37,381.40v-2.0M986.37,38.50v2.0M999.00,381.40v-2.0M999.00,38.50v2.0M1007.96,381.40v-2.0M1007.96,38.50v2.0M1014.91,381.40v-2.0M1014.91,38.50v2.0M1020.59,381.40v-2.0M1020.59,38.50v2.0M1025.39,381.40v-2.0M1025.39,38.50v2.0M1029.55,381.40v-2.0M1029.55,38.50v2.0M1033.22,381.40v-2.0M1033.22,38.50v2.0M606.20,338.50h4.0M1036.50,338.50h-4.0M606.20,295.65h2.0M1036.50,295.65h-2.0M606.20,252.80h4.0M1036.50,252.80h-4.0M606.20,209.95h2.0M1036.50,209.95h-2.0M606.20,167.10h4.0M1036.50,167.10h-4.0M606.20,124.25h2.0M1036.50,124.25h-2.0M606.20,81.40h4.0M1036.50,81.40h-4.0" stroke="#606060" stroke-width="0.9" fill="none"/>
<text x="76.5" y="392.5" font-size="18.5" text-anchor="middle" fill="#000" >0.01</text>
<text x="147.7" y="392.5" font-size="18.5" text-anchor="middle" fill="#000" >0.10</text>
<text x="218.9" y="392.5" font-size="18.5" text-anchor="middle" fill="#000" >1</text>
<text x="290.1" y="392.5" font-size="18.5" text-anchor="middle" fill="#000" >10</text>
<text x="361.3" y="392.5" font-size="18.5" text-anchor="middle" fill="#000" >100</text>
<text x="432.5" y="392.5" font-size="18.5" text-anchor="middle" fill="#000" >1000</text>
<text x="499.40" y="395.5" font-size="18.5" text-anchor="middle">10</text>
<text x="512.50" y="387.0" font-size="12.9" text-anchor="middle">4</text>
<text x="71.5" y="78.96" font-size="18.5" text-anchor="end" fill="#000" >100</text>
<text x="71.5" y="164.09" font-size="18.5" text-anchor="end" fill="#000" >1</text>
<text x="71.5" y="249.21" font-size="18.5" text-anchor="end" fill="#000" >0.01</text>
<text x="71.5" y="336.34" font-size="18.5" text-anchor="end">10<tspan font-size="12.6" dy="-7.5">&#8722;4</tspan></text>
<text x="606.2" y="403.3" font-size="18.5" text-anchor="middle" fill="#000" >0.01</text>
<text x="677.92" y="403.3" font-size="18.5" text-anchor="middle" fill="#000" >0.10</text>
<text x="749.63" y="403.3" font-size="18.5" text-anchor="middle" fill="#000" >1</text>
<text x="821.35" y="403.3" font-size="18.5" text-anchor="middle" fill="#000" >10</text>
<text x="893.07" y="403.3" font-size="18.5" text-anchor="middle" fill="#000" >100</text>
<text x="964.78" y="403.3" font-size="18.5" text-anchor="middle" fill="#000" >1000</text>
<text x="1032.20" y="406.3" font-size="18.5" text-anchor="middle">10</text>
<text x="1045.30" y="397.8" font-size="12.9" text-anchor="middle">4</text>
<text x="601.5" y="88.0" font-size="18.5" text-anchor="end" fill="#000" >100</text>
<text x="601.5" y="173.7" font-size="18.5" text-anchor="end" fill="#000" >1</text>
<text x="601.5" y="259.4" font-size="18.5" text-anchor="end" fill="#000" >0.01</text>
<text x="601.5" y="347.10" font-size="18.5" text-anchor="end">10<tspan font-size="12.6" dy="-7.5">&#8722;4</tspan></text>
<text x="217.3" y="18.3" font-size="18.2" textLength="150" lengthAdjust="spacing" ><tspan font-size="12" dy="-8">56</tspan><tspan dy="8" dx="1.5">Fe + Al &#8211;&gt; </tspan><tspan font-size="12" dy="-8">54</tspan><tspan dy="8" dx="1.5">Mn</tspan></text>
<text x="759.9" y="26.3" font-size="18.2" textLength="129" lengthAdjust="spacing" ><tspan font-size="12" dy="-8">16</tspan><tspan dy="8" dx="1.5">O + Al &#8211;&gt; </tspan><tspan font-size="12" dy="-8">14</tspan><tspan dy="8" dx="1.5">N</tspan></text>
<text x="80.8" y="53" font-size="18.6" textLength="60" lengthAdjust="spacing" >FLUKA</text>
<text x="157" y="53" font-size="18.6" fill="#e8000b">1,</text>
<text x="179" y="53" font-size="18.6" fill="#009a00">10,</text>
<text x="209.5" y="53" font-size="18.6" fill="#0000e6">100</text>
<text x="244.5" y="53" font-size="18.6" >g/cm<tspan font-size="12.5" dy="-8">2</tspan></text>
<text x="610.8" y="61.5" font-size="18.6" textLength="60" lengthAdjust="spacing" >FLUKA</text>
<text x="688" y="61.5" font-size="18.6" fill="#e8000b">1,</text>
<text x="709" y="61.5" font-size="18.6" fill="#009a00">10,</text>
<text x="739.8" y="61.5" font-size="18.6" fill="#0000e6">100</text>
<text x="775.7" y="61.5" font-size="18.6" >g/cm<tspan font-size="12.5" dy="-8">2</tspan></text>
<text x="194.6" y="426.8" font-size="18" textLength="190" lengthAdjust="spacing" >Kinetic Energy [MeV/n]</text>
<text x="725.1" y="438.3" font-size="18" textLength="192.5" lengthAdjust="spacing" >Kinetic Energy [MeV/n]</text>
<text transform="translate(18.4,336) rotate(-90)" font-size="18" textLength="271" lengthAdjust="spacing">Flux [particles/(cm<tspan font-size="12.5" dy="-7">2</tspan><tspan dy="7" dx="1"> MeV/n year)]</tspan></text>
<text transform="translate(547.4,346.8) rotate(-90)" font-size="18" textLength="274.5" lengthAdjust="spacing">Flux [particles/(cm<tspan font-size="12.5" dy="-7">2</tspan><tspan dy="7" dx="1"> MeV/n year)]</tspan></text>
<text x="287.2" y="478.3" font-size="29" font-family="Liberation Serif, serif" text-anchor="middle">(a)</text>
<text x="825" y="478.3" font-size="29" font-family="Liberation Serif, serif" text-anchor="middle">(b)</text>
</svg></body></html>
